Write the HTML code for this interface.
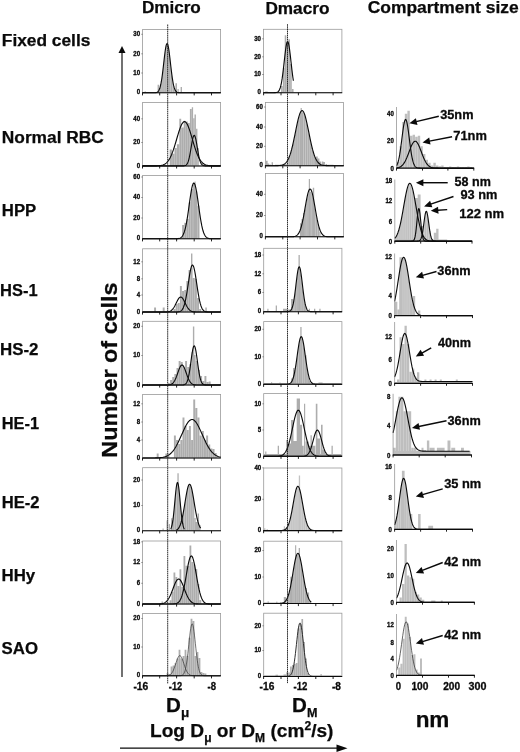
<!DOCTYPE html>
<html><head><meta charset="utf-8"><title>figure</title>
<style>html,body{margin:0;padding:0;background:#fff;}svg{display:block;font-family:'Liberation Sans', sans-serif;filter:grayscale(1);}
</style></head><body>
<svg width="520" height="752" viewBox="0 0 520 752">
<rect width="520" height="752" fill="#fff"/>
<g fill="#0a0a0a" font-weight="bold" stroke="#0a0a0a" stroke-width="0.25">
<text x="141.9" y="12.8" font-size="16" textLength="58.9" lengthAdjust="spacingAndGlyphs">Dmicro</text>
<text x="265.4" y="14.4" font-size="16" textLength="64" lengthAdjust="spacingAndGlyphs">Dmacro</text>
<text x="367.7" y="12.9" font-size="16" textLength="151" lengthAdjust="spacingAndGlyphs">Compartment size</text>
<text x="1.8" y="46.2" font-size="16.8" textLength="88.6" lengthAdjust="spacingAndGlyphs">Fixed cells</text>
<text x="1.8" y="142.7" font-size="16.8" textLength="102" lengthAdjust="spacingAndGlyphs">Normal RBC</text>
<text x="1.8" y="216" font-size="16.8" textLength="34.4" lengthAdjust="spacingAndGlyphs">HPP</text>
<text x="0" y="295.7" font-size="16.8" textLength="37.6" lengthAdjust="spacingAndGlyphs">HS-1</text>
<text x="0" y="355.2" font-size="16.8" textLength="38.5" lengthAdjust="spacingAndGlyphs">HS-2</text>
<text x="1.7" y="428.7" font-size="16.8" textLength="37.4" lengthAdjust="spacingAndGlyphs">HE-1</text>
<text x="1.7" y="508" font-size="16.8" textLength="37.8" lengthAdjust="spacingAndGlyphs">HE-2</text>
<text x="1.5" y="581.2" font-size="16.8" textLength="33.7" lengthAdjust="spacingAndGlyphs">HHy</text>
<text x="1.5" y="653.8" font-size="16.8" textLength="36.5" lengthAdjust="spacingAndGlyphs">SAO</text>
<text transform="translate(117.2,457.7) rotate(-90)" font-size="22" textLength="175.3" lengthAdjust="spacingAndGlyphs">Number of cells</text>
<text x="166" y="712.2" font-size="20.6">D<tspan font-size="13.6" dy="5">μ</tspan></text>
<text x="292" y="712.2" font-size="20.6">D<tspan font-size="12.6" dy="5">M</tspan></text>
<text x="150" y="736.5" font-size="19" textLength="183.5" lengthAdjust="spacingAndGlyphs">Log D<tspan font-size="12" dy="5">μ</tspan><tspan dy="-5"> or D</tspan><tspan font-size="12" dy="5">M</tspan><tspan dy="-5"> (cm</tspan><tspan font-size="12" dy="-7">2</tspan><tspan dy="7">/s)</tspan></text>
<text x="432.5" y="727" font-size="22.5" text-anchor="middle">nm</text>
</g>
<path d="M122 52V677" stroke="#0a0a0a" stroke-width="1.15" fill="none"/>
<path d="M122 46L118.5 53H125.5z" fill="#0a0a0a"/>
<path d="M120 748.2H338" stroke="#0a0a0a" stroke-width="1.3" fill="none"/>
<path d="M347.5 748.2L336.5 744.5V751.9z" fill="#0a0a0a"/>
<rect x="142.6" y="29.5" width="78" height="63.3" fill="#fff" stroke="#9a9a9a" stroke-width="0.8"/>
<path d="M156.54 92.51L157.01 92.35L157.48 92.11L157.95 91.76L158.43 91.27L158.9 90.6L159.37 89.7L159.84 88.51L160.31 86.98L160.78 85.07L161.25 82.74L161.73 79.98L162.2 76.78L162.67 73.19L163.14 69.29L163.61 65.18L164.08 61L164.55 56.93L165.03 53.16L165.5 49.87L165.97 47.26L166.44 45.46L166.91 44.58L167.38 44.68L167.85 45.75L168.33 47.72L168.8 50.48L169.27 53.88L169.74 57.73L170.21 61.83L170.68 66.01L171.15 70.09L171.63 73.94L172.1 77.45L172.57 80.56L173.04 83.24L173.51 85.48L173.98 87.31L174.45 88.77L174.93 89.9L175.4 90.75L175.87 91.38L176.34 91.84L176.81 92.16L177.28 92.39L177.66 92.51 L177.66 92.8 L156.54 92.8z" fill="#adadad"/>
<path d="M159.9 92.2V89.13M162 92.2V78.97M164.1 92.2V61.65M166.2 92.2V47.06M168.3 92.2V48.39M170.4 92.2V64.3M172.5 92.2V80.94M174.6 92.2V89.95" stroke="#e4e4e4" stroke-width="0.45" fill="none"/>
<path d="M157.6 92.8V84.7h1.6V92.8zM175.4 92.8V83.2h1.6V92.8zM177.5 92.8V89h1.2V92.8zM180.6 92.8V87h1.4V92.8zM144.5 92.8V91.6h1.5V92.8z" fill="#adadad"/>
<path d="M142.6 92.8L152.69 92.8L153.17 92.79L153.65 92.78L154.13 92.77L154.61 92.75L155.09 92.72L155.57 92.67L156.04 92.59L156.52 92.46L157 92.28L157.48 92L157.96 91.61L158.44 91.06L158.92 90.31L159.39 89.3L159.87 87.99L160.35 86.32L160.83 84.24L161.31 81.73L161.79 78.78L162.27 75.39L162.74 71.62L163.22 67.56L163.7 63.33L164.18 59.08L164.66 54.99L165.14 51.27L165.62 48.1L166.09 45.67L166.57 44.1L167.05 43.51L167.53 43.91L168.01 45.28L168.49 47.55L168.97 50.59L169.44 54.21L169.92 58.24L170.4 62.47L170.88 66.72L171.36 70.83L171.84 74.67L172.32 78.13L172.79 81.18L173.27 83.78L173.75 85.94L174.23 87.68L174.71 89.06L175.19 90.13L175.67 90.93L176.14 91.51L176.62 91.93L177.1 92.23L177.58 92.43L178.06 92.57L178.54 92.65L179.02 92.71L179.49 92.75L179.97 92.77L180.45 92.78L180.93 92.79L181.41 92.79L181.5 92.8L220.6 92.8" fill="none" stroke="#0a0a0a" stroke-width="1.12" stroke-linejoin="round"/>
<path d="M142.1 92.8H220.9" stroke="#0a0a0a" stroke-width="1.05" fill="none"/>
<path d="M142.5 92.8v2.6M159.7 92.8v2.6M176.6 92.8v2.6M194.2 92.8v2.6M211.5 92.8v2.6" stroke="#0a0a0a" stroke-width="0.9" fill="none"/>
<path d="M142.6 34.3h-1.3M142.6 53.8h-1.3M142.6 73h-1.3" stroke="#444" stroke-width="0.6" fill="none"/>
<g fill="#0a0a0a">
<text x="133.3" y="36.27" font-size="6.3" font-weight="bold" stroke="#0a0a0a" stroke-width="0.3" textLength="6.8" lengthAdjust="spacingAndGlyphs">30</text>
<text x="133.3" y="55.77" font-size="6.3" font-weight="bold" stroke="#0a0a0a" stroke-width="0.3" textLength="6.8" lengthAdjust="spacingAndGlyphs">20</text>
<text x="133.3" y="74.97" font-size="6.3" font-weight="bold" stroke="#0a0a0a" stroke-width="0.3" textLength="6.8" lengthAdjust="spacingAndGlyphs">10</text>
<text x="136.7" y="94.47" font-size="6.3" font-weight="bold" stroke="#0a0a0a" stroke-width="0.3" textLength="3.4" lengthAdjust="spacingAndGlyphs">0</text>
</g>
<rect x="142.6" y="102.5" width="78" height="63.4" fill="#fff" stroke="#9a9a9a" stroke-width="0.8"/>
<path d="M169.7 165.9V149.5h2.2V165.9zM172.1 165.9V153.8h2.2V165.9zM174.5 165.9V148h2.2V165.9zM176.9 165.9V144.2h2.2V165.9zM179.3 165.9V118.8h1.9V165.9zM181.4 165.9V127.4h2.1V165.9zM183.7 165.9V120.7h1.7V165.9zM185.6 165.9V121.6h2.2V165.9zM188 165.9V123h1.7V165.9zM189.9 165.9V109.1h1.7V165.9zM191.8 165.9V107.2h1.3V165.9zM193.3 165.9V118.3h1V165.9zM194.5 165.9V114.4h1.4V165.9zM196.1 165.9V128.8h1.3V165.9zM197.6 165.9V148h1.2V165.9z" fill="#adadad"/>
<path d="M142.6 165.9L150.96 165.9L151.76 165.89L152.56 165.89L153.36 165.88L154.16 165.88L154.96 165.87L155.76 165.85L156.56 165.83L157.36 165.8L158.16 165.75L158.96 165.69L159.76 165.61L160.56 165.5L161.36 165.36L162.16 165.17L162.96 164.92L163.76 164.61L164.56 164.21L165.36 163.72L166.16 163.11L166.96 162.37L167.76 161.47L168.56 160.41L169.36 159.17L170.16 157.73L170.96 156.08L171.76 154.23L172.56 152.17L173.36 149.92L174.16 147.5L174.96 144.93L175.76 142.25L176.56 139.51L177.36 136.76L178.16 134.06L178.96 131.48L179.76 129.07L180.56 126.91L181.36 125.05L182.16 123.55L182.96 122.46L183.76 121.8L184.56 121.6L185.36 121.87L186.16 122.59L186.96 123.75L187.76 125.31L188.56 127.21L189.36 129.42L190.16 131.85L190.96 134.46L191.76 137.17L192.56 139.93L193.36 142.66L194.16 145.32L194.96 147.87L195.76 150.27L196.56 152.49L197.36 154.52L198.16 156.34L198.96 157.95L199.76 159.36L200.56 160.58L201.36 161.62L202.16 162.49L202.96 163.21L203.76 163.8L204.56 164.28L205.36 164.66L206.16 164.96L206.96 165.2L207.76 165.38L208.56 165.52L209.36 165.62L210.16 165.7L210.96 165.76L211.76 165.8L212.56 165.83L213.36 165.85L214.16 165.87L214.96 165.88L215.76 165.89L216.56 165.89L217.36 165.89L218.04 165.9L220.6 165.9" fill="none" stroke="#0a0a0a" stroke-width="1.12" stroke-linejoin="round"/>
<path d="M142.6 165.9L181.08 165.9L181.52 165.89L181.96 165.89L182.39 165.88L182.83 165.87L183.26 165.85L183.7 165.82L184.13 165.77L184.57 165.69L185.01 165.57L185.44 165.4L185.88 165.16L186.31 164.82L186.75 164.35L187.18 163.73L187.62 162.91L188.06 161.88L188.49 160.59L188.93 159.03L189.36 157.2L189.8 155.09L190.23 152.76L190.67 150.23L191.11 147.61L191.54 144.97L191.98 142.43L192.41 140.12L192.85 138.16L193.28 136.65L193.72 135.68L194.16 135.3L194.59 135.55L195.03 136.41L195.46 137.82L195.9 139.7L196.33 141.95L196.77 144.45L197.21 147.08L197.64 149.71L198.08 152.26L198.51 154.64L198.95 156.8L199.38 158.69L199.82 160.3L200.26 161.64L200.69 162.72L201.13 163.58L201.56 164.24L202 164.74L202.43 165.1L202.87 165.36L203.31 165.55L203.74 165.67L204.18 165.75L204.61 165.81L205.05 165.85L205.48 165.87L205.92 165.88L206.36 165.89L206.79 165.89L207.23 165.9L207.31 165.9L220.6 165.9" fill="none" stroke="#0a0a0a" stroke-width="1.12" stroke-linejoin="round"/>
<path d="M142.1 165.9H220.9" stroke="#0a0a0a" stroke-width="1.05" fill="none"/>
<path d="M142.5 165.9v2.6M159.7 165.9v2.6M176.6 165.9v2.6M194.2 165.9v2.6M211.5 165.9v2.6" stroke="#0a0a0a" stroke-width="0.9" fill="none"/>
<path d="M142.6 118.8h-1.3M142.6 142.5h-1.3" stroke="#444" stroke-width="0.6" fill="none"/>
<g fill="#0a0a0a">
<text x="133.3" y="120.77" font-size="6.3" font-weight="bold" stroke="#0a0a0a" stroke-width="0.3" textLength="6.8" lengthAdjust="spacingAndGlyphs">40</text>
<text x="133.3" y="144.47" font-size="6.3" font-weight="bold" stroke="#0a0a0a" stroke-width="0.3" textLength="6.8" lengthAdjust="spacingAndGlyphs">20</text>
<text x="136.7" y="167.57" font-size="6.3" font-weight="bold" stroke="#0a0a0a" stroke-width="0.3" textLength="3.4" lengthAdjust="spacingAndGlyphs">0</text>
</g>
<rect x="142.6" y="175.5" width="78" height="63.3" fill="#fff" stroke="#9a9a9a" stroke-width="0.8"/>
<path d="M182.11 238.8V225h1.98V238.8zM184.31 238.8V222.8h1.98V238.8zM186.51 238.8V219h1.98V238.8zM188.71 238.8V202.28h1.98V238.8zM190.91 238.8V189.05h1.98V238.8zM193.11 238.8V184.58h1.98V238.8zM195.31 238.8V191.51h1.98V238.8zM197.51 238.8V205.79h1.98V238.8zM194.6 238.8V181.5h1V238.8z" fill="#adadad"/>
<path d="M142.6 238.8L173.81 238.79L174.48 238.79L175.14 238.78L175.81 238.77L176.47 238.75L177.14 238.71L177.81 238.65L178.47 238.56L179.14 238.42L179.8 238.21L180.47 237.9L181.13 237.45L181.8 236.83L182.47 235.98L183.13 234.84L183.8 233.35L184.46 231.46L185.13 229.11L185.79 226.27L186.46 222.93L187.13 219.1L187.79 214.83L188.46 210.23L189.12 205.44L189.79 200.63L190.45 196.01L191.12 191.8L191.79 188.21L192.45 185.46L193.12 183.68L193.78 183.01L194.45 183.46L195.11 185.02L195.78 187.59L196.45 191.02L197.11 195.13L197.78 199.68L198.44 204.47L199.11 209.28L199.77 213.93L200.44 218.27L201.11 222.2L201.77 225.65L202.44 228.59L203.1 231.03L203.77 233.01L204.43 234.57L205.1 235.77L205.77 236.68L206.43 237.34L207.1 237.82L207.76 238.15L208.43 238.38L209.09 238.54L209.76 238.64L210.43 238.7L211.09 238.74L211.76 238.77L212.42 238.78L213.09 238.79L213.75 238.79L213.89 238.79L220.6 238.8" fill="none" stroke="#0a0a0a" stroke-width="1.12" stroke-linejoin="round"/>
<path d="M142.1 238.8H220.9" stroke="#0a0a0a" stroke-width="1.05" fill="none"/>
<path d="M142.5 238.8v2.6M159.7 238.8v2.6M176.6 238.8v2.6M194.2 238.8v2.6M211.5 238.8v2.6" stroke="#0a0a0a" stroke-width="0.9" fill="none"/>
<path d="M142.6 177h-1.3M142.6 197.5h-1.3M142.6 218h-1.3" stroke="#444" stroke-width="0.6" fill="none"/>
<g fill="#0a0a0a">
<text x="133.3" y="178.97" font-size="6.3" font-weight="bold" stroke="#0a0a0a" stroke-width="0.3" textLength="6.8" lengthAdjust="spacingAndGlyphs">60</text>
<text x="133.3" y="199.47" font-size="6.3" font-weight="bold" stroke="#0a0a0a" stroke-width="0.3" textLength="6.8" lengthAdjust="spacingAndGlyphs">40</text>
<text x="133.3" y="219.97" font-size="6.3" font-weight="bold" stroke="#0a0a0a" stroke-width="0.3" textLength="6.8" lengthAdjust="spacingAndGlyphs">20</text>
<text x="136.7" y="240.47" font-size="6.3" font-weight="bold" stroke="#0a0a0a" stroke-width="0.3" textLength="3.4" lengthAdjust="spacingAndGlyphs">0</text>
</g>
<rect x="142.6" y="248.8" width="78" height="63.2" fill="#fff" stroke="#9a9a9a" stroke-width="0.8"/>
<path d="M154.11 312V307.5h1.93V312zM162.71 312V307.5h1.93V312zM173.46 312V309h1.93V312zM175.61 312V304h1.93V312zM177.76 312V303h1.93V312zM179.91 312V286h1.93V312zM182.06 312V291h1.93V312zM184.21 312V290h1.93V312zM186.36 312V281h1.93V312zM188.51 312V270h1.93V312zM190.66 312V268h1.93V312zM192.81 312V278h1.93V312zM194.96 312V279h1.93V312zM197.11 312V298h1.93V312zM199.26 312V309h1.93V312zM191 312V253.5h1.4V312zM205.3 312V307.5h1.5V312z" fill="#adadad"/>
<path d="M142.6 312L161.78 312L162.41 312L163.04 312L163.67 311.99L164.29 311.99L164.92 311.98L165.55 311.96L166.18 311.94L166.81 311.9L167.44 311.84L168.07 311.76L168.69 311.64L169.32 311.47L169.95 311.24L170.58 310.93L171.21 310.54L171.84 310.03L172.47 309.4L173.09 308.63L173.72 307.73L174.35 306.7L174.98 305.56L175.61 304.32L176.24 303.03L176.87 301.74L177.49 300.5L178.12 299.36L178.75 298.4L179.38 297.66L180.01 297.18L180.64 297L181.27 297.12L181.89 297.54L182.52 298.23L183.15 299.16L183.78 300.26L184.41 301.48L185.04 302.77L185.67 304.07L186.29 305.32L186.92 306.48L187.55 307.54L188.18 308.46L188.81 309.25L189.44 309.91L190.07 310.44L190.69 310.86L191.32 311.19L191.95 311.43L192.58 311.61L193.21 311.74L193.84 311.83L194.47 311.89L195.09 311.93L195.72 311.96L196.35 311.97L196.98 311.98L197.61 311.99L198.24 311.99L198.87 312L199.49 312L199.62 312L220.6 312" fill="none" stroke="#0a0a0a" stroke-width="1.12" stroke-linejoin="round"/>
<path d="M142.6 312L174.44 312L175.04 311.99L175.64 311.99L176.24 311.97L176.84 311.95L177.44 311.92L178.04 311.87L178.64 311.8L179.24 311.68L179.84 311.5L180.44 311.24L181.04 310.86L181.64 310.34L182.24 309.62L182.84 308.66L183.44 307.41L184.04 305.82L184.64 303.84L185.24 301.45L185.84 298.63L186.44 295.4L187.04 291.81L187.64 287.94L188.24 283.9L188.84 279.85L189.44 275.96L190.04 272.41L190.64 269.39L191.24 267.07L191.84 265.58L192.44 265L193.04 265.39L193.64 266.7L194.24 268.87L194.84 271.76L195.44 275.21L196.04 279.05L196.64 283.09L197.24 287.14L197.84 291.06L198.44 294.71L199.04 298.02L199.64 300.92L200.24 303.4L200.84 305.46L201.44 307.12L202.04 308.44L202.64 309.45L203.24 310.21L203.84 310.77L204.44 311.17L205.04 311.46L205.64 311.65L206.24 311.78L206.84 311.86L207.44 311.92L208.04 311.95L208.64 311.97L209.24 311.98L209.84 311.99L210.44 311.99L210.56 312L220.6 312" fill="none" stroke="#0a0a0a" stroke-width="1.12" stroke-linejoin="round"/>
<path d="M142.1 312H220.9" stroke="#0a0a0a" stroke-width="1.05" fill="none"/>
<path d="M142.5 312v2.6M159.7 312v2.6M176.6 312v2.6M194.2 312v2.6M211.5 312v2.6" stroke="#0a0a0a" stroke-width="0.9" fill="none"/>
<path d="M142.6 261.8h-1.3M142.6 278.8h-1.3M142.6 295h-1.3" stroke="#444" stroke-width="0.6" fill="none"/>
<g fill="#0a0a0a">
<text x="133.3" y="263.77" font-size="6.3" font-weight="bold" stroke="#0a0a0a" stroke-width="0.3" textLength="6.8" lengthAdjust="spacingAndGlyphs">12</text>
<text x="136.7" y="280.77" font-size="6.3" font-weight="bold" stroke="#0a0a0a" stroke-width="0.3" textLength="3.4" lengthAdjust="spacingAndGlyphs">8</text>
<text x="136.7" y="296.97" font-size="6.3" font-weight="bold" stroke="#0a0a0a" stroke-width="0.3" textLength="3.4" lengthAdjust="spacingAndGlyphs">4</text>
<text x="136.7" y="313.67" font-size="6.3" font-weight="bold" stroke="#0a0a0a" stroke-width="0.3" textLength="3.4" lengthAdjust="spacingAndGlyphs">0</text>
</g>
<rect x="142.6" y="321.3" width="78" height="63.7" fill="#fff" stroke="#9a9a9a" stroke-width="0.8"/>
<path d="M167.91 385V383h1.93V385zM170.06 385V380h1.93V385zM172.21 385V377h1.93V385zM174.36 385V374h1.93V385zM176.51 385V368h1.93V385zM178.66 385V361h1.93V385zM180.81 385V362h1.93V385zM182.96 385V367h1.93V385zM185.11 385V361h1.93V385zM187.26 385V367h1.93V385zM189.41 385V364h1.93V385zM191.56 385V352h1.93V385zM193.71 385V355h1.93V385zM195.86 385V361h1.93V385zM198.01 385V370h1.93V385zM200.16 385V376h1.93V385zM202.31 385V381h1.93V385zM204.46 385V376h1.93V385zM206.61 385V382h1.93V385zM208.76 385V381.5h1.93V385zM192.9 385V326.5h1.4V385z" fill="#adadad"/>
<path d="M142.6 385L163.94 385L164.54 385L165.14 384.99L165.74 384.99L166.34 384.98L166.94 384.97L167.54 384.95L168.14 384.91L168.74 384.86L169.34 384.79L169.94 384.68L170.54 384.52L171.14 384.29L171.74 383.99L172.34 383.58L172.94 383.05L173.54 382.37L174.14 381.53L174.74 380.51L175.34 379.31L175.94 377.94L176.54 376.41L177.14 374.76L177.74 373.04L178.34 371.32L178.94 369.66L179.54 368.15L180.14 366.87L180.74 365.88L181.34 365.25L181.94 365L182.54 365.16L183.14 365.72L183.74 366.64L184.34 367.88L184.94 369.35L185.54 370.98L186.14 372.7L186.74 374.42L187.34 376.09L187.94 377.64L188.54 379.05L189.14 380.29L189.74 381.34L190.34 382.22L190.94 382.92L191.54 383.48L192.14 383.92L192.74 384.24L193.34 384.48L193.94 384.65L194.54 384.77L195.14 384.85L195.74 384.91L196.34 384.94L196.94 384.96L197.54 384.98L198.14 384.99L198.74 384.99L199.34 385L199.94 385L200.06 385L220.6 385" fill="none" stroke="#0a0a0a" stroke-width="1.12" stroke-linejoin="round"/>
<path d="M142.6 385L180.44 385L180.9 384.99L181.35 384.99L181.81 384.98L182.27 384.96L182.73 384.94L183.18 384.9L183.64 384.83L184.1 384.73L184.55 384.58L185.01 384.36L185.47 384.05L185.93 383.61L186.38 383.02L186.84 382.22L187.3 381.17L187.75 379.84L188.21 378.2L188.67 376.2L189.13 373.85L189.58 371.16L190.04 368.16L190.5 364.93L190.95 361.56L191.41 358.18L191.87 354.94L192.33 351.98L192.78 349.46L193.24 347.52L193.7 346.28L194.15 345.8L194.61 346.12L195.07 347.22L195.53 349.02L195.98 351.44L196.44 354.32L196.9 357.52L197.35 360.88L197.81 364.26L198.27 367.53L198.73 370.58L199.18 373.34L199.64 375.76L200.1 377.82L200.55 379.54L201.01 380.93L201.47 382.03L201.93 382.87L202.38 383.51L202.84 383.98L203.3 384.31L203.75 384.55L204.21 384.71L204.67 384.81L205.13 384.88L205.58 384.93L206.04 384.96L206.5 384.98L206.95 384.99L207.41 384.99L207.87 385L207.96 385L220.6 385" fill="none" stroke="#0a0a0a" stroke-width="1.12" stroke-linejoin="round"/>
<path d="M142.1 385H220.9" stroke="#0a0a0a" stroke-width="1.05" fill="none"/>
<path d="M142.5 385v2.6M159.7 385v2.6M176.6 385v2.6M194.2 385v2.6M211.5 385v2.6" stroke="#0a0a0a" stroke-width="0.9" fill="none"/>
<path d="M142.6 326.3h-1.3M142.6 355.5h-1.3" stroke="#444" stroke-width="0.6" fill="none"/>
<g fill="#0a0a0a">
<text x="133.3" y="328.27" font-size="6.3" font-weight="bold" stroke="#0a0a0a" stroke-width="0.3" textLength="6.8" lengthAdjust="spacingAndGlyphs">20</text>
<text x="133.3" y="357.47" font-size="6.3" font-weight="bold" stroke="#0a0a0a" stroke-width="0.3" textLength="6.8" lengthAdjust="spacingAndGlyphs">10</text>
<text x="136.7" y="386.67" font-size="6.3" font-weight="bold" stroke="#0a0a0a" stroke-width="0.3" textLength="3.4" lengthAdjust="spacingAndGlyphs">0</text>
</g>
<rect x="142.6" y="394.5" width="78" height="63.5" fill="#fff" stroke="#9a9a9a" stroke-width="0.8"/>
<path d="M156.71 458V453.5h1.93V458zM165.31 458V453.5h1.93V458zM167.46 458V453.5h1.93V458zM173.91 458V435.5h1.93V458zM176.06 458V440h1.93V458zM178.21 458V444h1.93V458zM180.36 458V440h1.93V458zM182.51 458V417.5h1.93V458zM184.66 458V426h1.93V458zM186.81 458V430h1.93V458zM188.96 458V426h1.93V458zM191.11 458V440h1.93V458zM193.26 458V399.5h1.93V458zM195.41 458V408h1.93V458zM197.56 458V417.5h1.93V458zM199.71 458V435.5h1.93V458zM201.86 458V431h1.93V458zM204.01 458V440h1.93V458zM206.16 458V435.5h1.93V458zM208.31 458V444.5h1.93V458zM210.46 458V448.5h1.93V458zM212.61 458V449h1.93V458zM214.76 458V453h1.93V458z" fill="#adadad"/>
<path d="M142.6 458L147.71 458L148.51 457.99L149.31 457.99L150.11 457.99L150.91 457.99L151.71 457.98L152.51 457.98L153.31 457.97L154.11 457.96L154.91 457.94L155.71 457.92L156.51 457.9L157.31 457.87L158.11 457.83L158.91 457.78L159.71 457.72L160.51 457.64L161.31 457.55L162.11 457.43L162.91 457.29L163.71 457.11L164.51 456.91L165.31 456.66L166.11 456.37L166.91 456.02L167.71 455.61L168.51 455.14L169.31 454.6L170.11 453.98L170.91 453.27L171.71 452.47L172.51 451.57L173.31 450.58L174.11 449.48L174.91 448.28L175.71 446.98L176.51 445.57L177.31 444.08L178.11 442.49L178.91 440.83L179.71 439.11L180.51 437.33L181.31 435.53L182.11 433.72L182.91 431.92L183.71 430.15L184.51 428.44L185.31 426.82L186.11 425.31L186.91 423.93L187.71 422.7L188.51 421.65L189.31 420.79L190.11 420.14L190.91 419.71L191.71 419.52L192.51 419.55L193.31 419.81L194.11 420.3L194.91 421.01L195.71 421.92L196.51 423.02L197.31 424.29L198.11 425.71L198.91 427.26L199.71 428.91L200.51 430.63L201.31 432.41L202.11 434.22L202.91 436.03L203.71 437.83L204.51 439.59L205.31 441.29L206.11 442.94L206.91 444.5L207.71 445.97L208.51 447.35L209.31 448.62L210.11 449.79L210.91 450.86L211.71 451.83L212.51 452.7L213.31 453.47L214.11 454.16L214.91 454.76L215.71 455.28L216.51 455.73L217.31 456.12L218.11 456.45L218.91 456.73L219.71 456.97L220.51 457.16L220.6 457.18" fill="none" stroke="#0a0a0a" stroke-width="1.12" stroke-linejoin="round"/>
<path d="M142.1 458H220.9" stroke="#0a0a0a" stroke-width="1.05" fill="none"/>
<path d="M142.5 458v2.6M159.7 458v2.6M176.6 458v2.6M194.2 458v2.6M211.5 458v2.6" stroke="#0a0a0a" stroke-width="0.9" fill="none"/>
<path d="M142.6 403.8h-1.3M142.6 422h-1.3M142.6 440h-1.3" stroke="#444" stroke-width="0.6" fill="none"/>
<g fill="#0a0a0a">
<text x="133.3" y="405.77" font-size="6.3" font-weight="bold" stroke="#0a0a0a" stroke-width="0.3" textLength="6.8" lengthAdjust="spacingAndGlyphs">12</text>
<text x="136.7" y="423.97" font-size="6.3" font-weight="bold" stroke="#0a0a0a" stroke-width="0.3" textLength="3.4" lengthAdjust="spacingAndGlyphs">8</text>
<text x="136.7" y="441.97" font-size="6.3" font-weight="bold" stroke="#0a0a0a" stroke-width="0.3" textLength="3.4" lengthAdjust="spacingAndGlyphs">4</text>
<text x="136.7" y="459.67" font-size="6.3" font-weight="bold" stroke="#0a0a0a" stroke-width="0.3" textLength="3.4" lengthAdjust="spacingAndGlyphs">0</text>
</g>
<rect x="142.6" y="467.7" width="78" height="63.1" fill="#fff" stroke="#9a9a9a" stroke-width="0.8"/>
<path d="M171 528.46L171.4 527.46L171.8 526.12L172.2 524.4L172.6 522.24L173 519.61L173.4 516.51L173.8 512.95L174.2 509.02L174.6 504.81L175 500.49L175.4 496.25L175.8 492.3L176.2 488.86L176.6 486.15L177 484.33L177.4 483.53L177.8 483.8L178.2 485.12L178.6 487.4L179 490.5L179.4 494.22L179.8 498.34L180.2 502.65L180.6 506.94L181 511.03L181.4 514.78L181.8 518.12L182.2 520.99L182.6 523.38L183 525.31L183.4 526.83L183.8 528L184 528.46 L184 530.8 L171 530.8z" fill="#adadad"/>
<path d="M172.26 530.2V524.9M174.36 530.2V508.16M176.46 530.2V487.81M178.56 530.2V487.94M180.66 530.2V508.37M182.76 530.2V525" stroke="#e4e4e4" stroke-width="0.45" fill="none"/>
<path d="M179 527.59L179.66 526.39L180.31 524.86L180.97 522.95L181.63 520.64L182.29 517.92L182.94 514.8L183.6 511.32L184.26 507.57L184.91 503.66L185.57 499.72L186.23 495.94L186.89 492.49L187.54 489.54L188.2 487.26L188.86 485.79L189.51 485.21L190.17 485.55L190.83 486.8L191.49 488.87L192.14 491.66L192.8 495L193.46 498.72L194.11 502.63L194.3 503.74 L194.3 530.8 L179 530.8z" fill="#adadad"/>
<path d="M180.26 530.2V525.8M182.36 530.2V518.39M184.46 530.2V507.17M186.56 530.2V494.95M188.66 530.2V486.94M190.76 530.2V487.43M192.86 530.2V496.13" stroke="#e4e4e4" stroke-width="0.45" fill="none"/>
<path d="M162.5 530.8V528.6h1.2V530.8zM166.5 530.8V520.5h1.2V530.8zM168.8 530.8V524h1.2V530.8zM171.1 530.8V518.2h1.3V530.8zM177.4 530.8V473.2h1.3V530.8zM194.3 530.8V518h1.4V530.8zM195.7 530.8V522h1.9V530.8zM197.6 530.8V513.6h1.4V530.8zM199 530.8V525h1.6V530.8z" fill="#adadad"/>
<path d="M170.6 529.17L171 528.41L171.4 527.39L171.8 526.02L172.2 524.26L172.6 522.06L173 519.38L173.4 516.21L173.8 512.58L174.2 508.56L174.6 504.26L175 499.85L175.4 495.52L175.8 491.48L176.2 487.98L176.6 485.21L177 483.35L177.4 482.53L177.8 482.81L178.2 484.16L178.6 486.49L179 489.65L179.4 493.45L179.8 497.66L180.2 502.06L180.6 506.43L181 510.61L181.4 514.45L181.8 517.85L182.2 520.78L182.6 523.22L183 525.2L183.4 526.75L183.8 527.94L184.2 528.82L184.4 529.17" fill="none" stroke="#0a0a0a" stroke-width="1.12" stroke-linejoin="round"/>
<path d="M176.3 530.09L176.96 529.73L177.61 529.24L178.27 528.55L178.93 527.64L179.59 526.44L180.24 524.91L180.9 523.01L181.56 520.69L182.21 517.96L182.87 514.81L183.53 511.3L184.19 507.49L184.84 503.5L185.5 499.48L186.16 495.58L186.81 492.01L187.47 488.93L188.13 486.52L188.79 484.92L189.44 484.23L190.1 484.47L190.76 485.65L191.41 487.69L192.07 490.46L192.73 493.82L193.39 497.59L194.04 501.57L194.7 505.6L195.36 509.51L196.01 513.17L196.67 516.5L197.33 519.44L197.99 521.95L198.64 524.05L199.3 525.76L199.96 527.11L200.6 528.13" fill="none" stroke="#0a0a0a" stroke-width="1.12" stroke-linejoin="round"/>
<path d="M142.1 530.8H220.9" stroke="#0a0a0a" stroke-width="1.05" fill="none"/>
<path d="M142.5 530.8v2.6M159.7 530.8v2.6M176.6 530.8v2.6M194.2 530.8v2.6M211.5 530.8v2.6" stroke="#0a0a0a" stroke-width="0.9" fill="none"/>
<path d="M142.6 480h-1.3M142.6 505.5h-1.3" stroke="#444" stroke-width="0.6" fill="none"/>
<g fill="#0a0a0a">
<text x="133.3" y="481.97" font-size="6.3" font-weight="bold" stroke="#0a0a0a" stroke-width="0.3" textLength="6.8" lengthAdjust="spacingAndGlyphs">20</text>
<text x="133.3" y="507.47" font-size="6.3" font-weight="bold" stroke="#0a0a0a" stroke-width="0.3" textLength="6.8" lengthAdjust="spacingAndGlyphs">10</text>
<text x="136.7" y="532.47" font-size="6.3" font-weight="bold" stroke="#0a0a0a" stroke-width="0.3" textLength="3.4" lengthAdjust="spacingAndGlyphs">0</text>
</g>
<rect x="142.6" y="541" width="78" height="63" fill="#fff" stroke="#9a9a9a" stroke-width="0.8"/>
<path d="M169.51 604V600.3h1.78V604zM171.51 604V592h1.78V604zM173.51 604V572.6h1.78V604zM175.51 604V577h1.78V604zM177.51 604V586h1.78V604zM179.51 604V569.2h1.78V604zM181.51 604V587h1.78V604zM183.51 604V556h1.78V604zM185.51 604V565.7h1.78V604zM187.51 604V566h1.78V604zM189.51 604V545.5h1.78V604zM191.51 604V562h1.78V604zM193.51 604V564.5h1.78V604zM195.51 604V569h1.78V604zM197.51 604V584h1.78V604zM199.51 604V600h1.78V604zM161.5 604V601.5h1.5V604zM203.5 604V602h1.5V604z" fill="#adadad"/>
<path d="M142.6 604L154.14 604L154.94 604L155.74 603.99L156.54 603.99L157.34 603.98L158.14 603.96L158.94 603.94L159.74 603.9L160.54 603.84L161.34 603.75L162.14 603.62L162.94 603.44L163.74 603.18L164.54 602.83L165.34 602.36L166.14 601.75L166.94 600.97L167.74 600L168.54 598.81L169.34 597.41L170.14 595.8L170.94 593.99L171.74 592.01L172.54 589.93L173.34 587.8L174.14 585.72L174.94 583.77L175.74 582.05L176.54 580.66L177.34 579.65L178.14 579.1L178.94 579.03L179.74 579.45L180.54 580.34L181.34 581.63L182.14 583.27L182.94 585.17L183.74 587.22L184.54 589.34L185.34 591.45L186.14 593.46L186.94 595.32L187.74 596.99L188.54 598.45L189.34 599.69L190.14 600.72L190.94 601.55L191.74 602.21L192.54 602.72L193.34 603.1L194.14 603.38L194.94 603.58L195.74 603.72L196.54 603.82L197.34 603.88L198.14 603.93L198.94 603.96L199.74 603.97L200.54 603.98L201.34 603.99L202.14 603.99L202.94 604L203.16 604L220.6 604" fill="none" stroke="#0a0a0a" stroke-width="1.12" stroke-linejoin="round"/>
<path d="M142.6 604L169.85 604L170.56 603.99L171.28 603.98L171.99 603.97L172.71 603.95L173.42 603.92L174.14 603.87L174.85 603.79L175.56 603.67L176.28 603.49L176.99 603.22L177.71 602.84L178.42 602.3L179.14 601.57L179.85 600.58L180.56 599.3L181.28 597.67L181.99 595.65L182.71 593.2L183.42 590.32L184.14 587.01L184.85 583.34L185.56 579.37L186.28 575.24L186.99 571.1L187.71 567.11L188.42 563.48L189.14 560.39L189.85 558.02L190.56 556.49L191.28 555.9L191.99 556.3L192.71 557.64L193.42 559.86L194.14 562.81L194.85 566.35L195.56 570.28L196.28 574.41L196.99 578.56L197.71 582.57L198.42 586.31L199.14 589.69L199.85 592.66L200.56 595.2L201.28 597.3L201.99 599.01L202.71 600.35L203.42 601.39L204.14 602.17L204.85 602.74L205.56 603.15L206.28 603.44L206.99 603.64L207.71 603.77L208.42 603.86L209.14 603.91L209.85 603.95L210.56 603.97L211.28 603.98L211.99 603.99L212.71 603.99L212.85 604L220.6 604" fill="none" stroke="#0a0a0a" stroke-width="1.12" stroke-linejoin="round"/>
<path d="M142.1 604H220.9" stroke="#0a0a0a" stroke-width="1.05" fill="none"/>
<path d="M142.5 604v2.6M159.7 604v2.6M176.6 604v2.6M194.2 604v2.6M211.5 604v2.6" stroke="#0a0a0a" stroke-width="0.9" fill="none"/>
<path d="M142.6 541.8h-1.3M142.6 562.5h-1.3M142.6 583.3h-1.3" stroke="#444" stroke-width="0.6" fill="none"/>
<g fill="#0a0a0a">
<text x="133.3" y="543.77" font-size="6.3" font-weight="bold" stroke="#0a0a0a" stroke-width="0.3" textLength="6.8" lengthAdjust="spacingAndGlyphs">18</text>
<text x="133.3" y="564.47" font-size="6.3" font-weight="bold" stroke="#0a0a0a" stroke-width="0.3" textLength="6.8" lengthAdjust="spacingAndGlyphs">12</text>
<text x="136.7" y="585.27" font-size="6.3" font-weight="bold" stroke="#0a0a0a" stroke-width="0.3" textLength="3.4" lengthAdjust="spacingAndGlyphs">6</text>
<text x="136.7" y="605.67" font-size="6.3" font-weight="bold" stroke="#0a0a0a" stroke-width="0.3" textLength="3.4" lengthAdjust="spacingAndGlyphs">0</text>
</g>
<rect x="142.6" y="613.5" width="78" height="62.3" fill="#fff" stroke="#9a9a9a" stroke-width="0.8"/>
<path d="M166.61 675.8V672.9h1.78V675.8zM168.61 675.8V674h1.78V675.8zM170.61 675.8V666.5h1.78V675.8zM172.61 675.8V665.5h1.78V675.8zM174.61 675.8V663h1.78V675.8zM176.61 675.8V658.5h1.78V675.8zM178.61 675.8V649.8h1.78V675.8zM180.61 675.8V658.5h1.78V675.8zM182.61 675.8V656h1.78V675.8zM184.61 675.8V649.8h1.78V675.8zM186.61 675.8V656h1.78V675.8zM188.61 675.8V637.7h1.78V675.8zM190.61 675.8V618.7h1.78V675.8zM192.61 675.8V621h1.78V675.8zM194.61 675.8V656h1.78V675.8zM196.61 675.8V652h1.78V675.8zM198.61 675.8V658h1.78V675.8zM200.61 675.8V672h1.78V675.8zM202.61 675.8V673h1.78V675.8zM204.61 675.8V673.5h1.78V675.8z" fill="#adadad"/>
<path d="M142.6 675.8L162.6 675.8L163.17 675.8L163.74 675.79L164.31 675.79L164.89 675.78L165.46 675.77L166.03 675.75L166.6 675.71L167.17 675.66L167.74 675.59L168.31 675.47L168.89 675.31L169.46 675.09L170.03 674.78L170.6 674.37L171.17 673.83L171.74 673.14L172.31 672.29L172.89 671.27L173.46 670.05L174.03 668.67L174.6 667.12L175.17 665.46L175.74 663.72L176.31 661.98L176.89 660.31L177.46 658.78L178.03 657.49L178.6 656.49L179.17 655.85L179.74 655.6L180.31 655.77L180.89 656.33L181.46 657.26L182.03 658.5L182.6 659.99L183.17 661.64L183.74 663.37L184.31 665.11L184.89 666.8L185.46 668.37L186.03 669.79L186.6 671.04L187.17 672.1L187.74 672.99L188.31 673.7L188.89 674.27L189.46 674.7L190.03 675.03L190.6 675.27L191.17 675.44L191.74 675.57L192.31 675.65L192.89 675.7L193.46 675.74L194.03 675.76L194.6 675.78L195.17 675.79L195.74 675.79L196.31 675.8L196.89 675.8L197 675.8L220.6 675.8" fill="none" stroke="#333" stroke-width="0.7" stroke-linejoin="round"/>
<path d="M142.6 675.8L177.96 675.79L178.43 675.79L178.9 675.78L179.37 675.77L179.85 675.75L180.32 675.72L180.79 675.66L181.26 675.58L181.73 675.44L182.2 675.25L182.67 674.96L183.15 674.54L183.62 673.96L184.09 673.17L184.56 672.11L185.03 670.72L185.5 668.96L185.97 666.77L186.45 664.13L186.92 661.01L187.39 657.44L187.86 653.46L188.33 649.18L188.8 644.71L189.27 640.23L189.75 635.92L190.22 632L190.69 628.66L191.16 626.09L191.63 624.44L192.1 623.81L192.57 624.23L193.05 625.68L193.52 628.08L193.99 631.28L194.46 635.1L194.93 639.35L195.4 643.81L195.87 648.29L196.35 652.63L196.82 656.67L197.29 660.33L197.76 663.54L198.23 666.28L198.7 668.56L199.17 670.4L199.65 671.86L200.12 672.98L200.59 673.82L201.06 674.44L201.53 674.89L202 675.2L202.47 675.41L202.95 675.55L203.42 675.65L203.89 675.71L204.36 675.74L204.83 675.77L205.3 675.78L205.77 675.79L206.25 675.79L206.34 675.79L220.6 675.8" fill="none" stroke="#333" stroke-width="0.7" stroke-linejoin="round"/>
<path d="M142.1 675.8H220.9" stroke="#0a0a0a" stroke-width="1.05" fill="none"/>
<path d="M142.5 675.8v2.6M159.7 675.8v2.6M176.6 675.8v2.6M194.2 675.8v2.6M211.5 675.8v2.6" stroke="#0a0a0a" stroke-width="0.9" fill="none"/>
<path d="M142.6 618.5h-1.3M142.6 647h-1.3" stroke="#444" stroke-width="0.6" fill="none"/>
<g fill="#0a0a0a">
<text x="133.3" y="620.47" font-size="6.3" font-weight="bold" stroke="#0a0a0a" stroke-width="0.3" textLength="6.8" lengthAdjust="spacingAndGlyphs">20</text>
<text x="133.3" y="648.97" font-size="6.3" font-weight="bold" stroke="#0a0a0a" stroke-width="0.3" textLength="6.8" lengthAdjust="spacingAndGlyphs">10</text>
<text x="136.7" y="677.47" font-size="6.3" font-weight="bold" stroke="#0a0a0a" stroke-width="0.3" textLength="3.4" lengthAdjust="spacingAndGlyphs">0</text>
</g>
<rect x="263.5" y="29.3" width="78.4" height="63.4" fill="#fff" stroke="#9a9a9a" stroke-width="0.8"/>
<path d="M281.11 92.7V86h1.59V92.7zM282.92 92.7V68h1.59V92.7zM284.73 92.7V35.2h1.59V92.7zM286.54 92.7V41.5h1.59V92.7zM288.35 92.7V39.3h1.59V92.7zM290.16 92.7V64h1.59V92.7zM291.97 92.7V89h1.59V92.7zM265.2 92.7V91.6h2.5V92.7z" fill="#adadad"/>
<path d="M264 92.7L272.98 92.7L273.47 92.69L273.95 92.68L274.44 92.67L274.92 92.65L275.41 92.62L275.89 92.56L276.38 92.48L276.87 92.35L277.35 92.16L277.84 91.87L278.32 91.46L278.81 90.89L279.29 90.11L279.78 89.07L280.27 87.71L280.75 85.98L281.24 83.83L281.72 81.23L282.21 78.17L282.69 74.66L283.18 70.75L283.67 66.54L284.15 62.15L284.64 57.74L285.12 53.51L285.61 49.65L286.09 46.37L286.58 43.85L287.07 42.23L287.55 41.61L288.04 42.02L288.52 43.45L289.01 45.8L289.49 48.95L289.98 52.7L290.47 56.88L290.95 61.26L291.44 65.67L291.92 69.93L292.41 73.9L292.89 77.5L293.38 80.65L293.4 80.77" fill="none" stroke="#0a0a0a" stroke-width="1.12" stroke-linejoin="round"/>
<path d="M263 92.7H342.2" stroke="#0a0a0a" stroke-width="1.05" fill="none"/>
<path d="M263.6 92.7v2.6M281 92.7v2.6M298.4 92.7v2.6M315.8 92.7v2.6M333.1 92.7v2.6" stroke="#0a0a0a" stroke-width="0.9" fill="none"/>
<path d="M263.5 38.8h-1.3M263.5 56.8h-1.3M263.5 74.5h-1.3" stroke="#444" stroke-width="0.6" fill="none"/>
<g fill="#0a0a0a">
<text x="254.2" y="40.77" font-size="6.3" font-weight="bold" stroke="#0a0a0a" stroke-width="0.3" textLength="6.8" lengthAdjust="spacingAndGlyphs">30</text>
<text x="254.2" y="58.77" font-size="6.3" font-weight="bold" stroke="#0a0a0a" stroke-width="0.3" textLength="6.8" lengthAdjust="spacingAndGlyphs">20</text>
<text x="254.2" y="76.47" font-size="6.3" font-weight="bold" stroke="#0a0a0a" stroke-width="0.3" textLength="6.8" lengthAdjust="spacingAndGlyphs">10</text>
<text x="257.6" y="94.37" font-size="6.3" font-weight="bold" stroke="#0a0a0a" stroke-width="0.3" textLength="3.4" lengthAdjust="spacingAndGlyphs">0</text>
</g>
<rect x="265.4" y="102.5" width="78.2" height="63.2" fill="#fff" stroke="#9a9a9a" stroke-width="0.8"/>
<path d="M287.5 161.05L288.3 159.67L289.1 157.98L289.9 155.97L290.7 153.62L291.5 150.91L292.3 147.87L293.1 144.51L293.9 140.88L294.7 137.06L295.5 133.13L296.3 129.2L297.1 125.4L297.9 121.84L298.7 118.67L299.5 116.01L300.3 113.96L301.1 112.61L301.9 112.02L302.7 112.22L303.5 113.19L304.3 114.9L305.1 117.27L305.9 120.2L306.7 123.58L307.5 127.28L308.3 131.16L309.1 135.1L309.9 138.99L310.7 142.72L311.5 146.22L312.3 149.43L313.1 152.31L313.9 154.84L314.7 157.02L315.5 158.86L316 159.85 L316 165.7 L287.5 165.7z" fill="#adadad"/>
<path d="M288.76 165.1V159.54M290.86 165.1V153.91M292.96 165.1V145.92M295.06 165.1V136.1M297.16 165.1V125.92M299.26 165.1V117.55M301.36 165.1V113.14M303.46 165.1V113.93M305.56 165.1V119.69M307.66 165.1V128.84M309.76 165.1V139.12M311.86 165.1V148.51M313.96 165.1V155.81" stroke="#e4e4e4" stroke-width="0.45" fill="none"/>
<path d="M266 165.7V160.8h1.6V165.7zM267.6 165.7V163.5h1.6V165.7zM269.6 165.7V164.5h1.2V165.7zM271.6 165.7V162.2h1.4V165.7zM275 165.7V164.8h8V165.7zM283 165.7V164.2h4.5V165.7zM300.6 165.7V108h1.2V165.7zM316 165.7V156.5h1.7V165.7zM317.7 165.7V158.5h1.7V165.7zM319.4 165.7V161.5h1.7V165.7zM321.8 165.7V161.5h1.6V165.7zM323.4 165.7V162h1.6V165.7zM325.5 165.7V164h1.6V165.7zM327.5 165.7V164.8h6V165.7z" fill="#adadad"/>
<path d="M265.4 165.7L273.29 165.69L274.09 165.69L274.89 165.69L275.69 165.68L276.49 165.66L277.29 165.64L278.09 165.61L278.89 165.56L279.69 165.49L280.49 165.4L281.29 165.26L282.09 165.06L282.89 164.8L283.69 164.44L284.49 163.96L285.29 163.33L286.09 162.53L286.89 161.51L287.69 160.25L288.49 158.7L289.29 156.84L290.09 154.65L290.89 152.11L291.69 149.22L292.49 146L293.29 142.49L294.09 138.74L294.89 134.82L295.69 130.83L296.49 126.89L297.29 123.12L298.09 119.64L298.89 116.57L299.69 114.05L300.49 112.17L301.29 111L302.09 110.6L302.89 110.98L303.69 112.13L304.49 114L305.29 116.5L306.09 119.55L306.89 123.03L307.69 126.8L308.49 130.73L309.29 134.72L310.09 138.64L310.89 142.4L311.69 145.92L312.49 149.14L313.29 152.04L314.09 154.59L314.89 156.79L315.69 158.66L316.49 160.21L317.29 161.48L318.09 162.51L318.89 163.31L319.69 163.94L320.49 164.43L321.29 164.79L322.09 165.06L322.89 165.25L323.69 165.39L324.49 165.49L325.29 165.56L326.09 165.61L326.89 165.64L327.69 165.66L328.49 165.68L329.29 165.69L330.09 165.69L330.89 165.69L330.91 165.69L343.6 165.7" fill="none" stroke="#0a0a0a" stroke-width="1.12" stroke-linejoin="round"/>
<path d="M264.9 165.7H343.9" stroke="#0a0a0a" stroke-width="1.05" fill="none"/>
<path d="M265.4 165.7v2.6M282.8 165.7v2.6M300.1 165.7v2.6M317.5 165.7v2.6M334.8 165.7v2.6" stroke="#0a0a0a" stroke-width="0.9" fill="none"/>
<path d="M265.4 107h-1.3M265.4 127h-1.3M265.4 146.3h-1.3" stroke="#444" stroke-width="0.6" fill="none"/>
<g fill="#0a0a0a">
<text x="256.1" y="108.97" font-size="6.3" font-weight="bold" stroke="#0a0a0a" stroke-width="0.3" textLength="6.8" lengthAdjust="spacingAndGlyphs">60</text>
<text x="256.1" y="128.97" font-size="6.3" font-weight="bold" stroke="#0a0a0a" stroke-width="0.3" textLength="6.8" lengthAdjust="spacingAndGlyphs">40</text>
<text x="256.1" y="148.27" font-size="6.3" font-weight="bold" stroke="#0a0a0a" stroke-width="0.3" textLength="6.8" lengthAdjust="spacingAndGlyphs">20</text>
<text x="259.5" y="167.37" font-size="6.3" font-weight="bold" stroke="#0a0a0a" stroke-width="0.3" textLength="3.4" lengthAdjust="spacingAndGlyphs">0</text>
</g>
<rect x="265.4" y="173.5" width="78.2" height="63.3" fill="#fff" stroke="#9a9a9a" stroke-width="0.8"/>
<path d="M301.5 227.09L302.2 224.45L302.9 221.41L303.6 218.01L304.3 214.32L305 210.45L305.7 206.53L306.4 202.74L307.1 199.24L307.8 196.23L308.5 193.85L309.2 192.26L309.9 191.54L310.6 191.74L311.3 192.84L312 194.78L312.7 197.45L313.4 200.69L314.1 204.34L314.8 208.2L315.5 212.12L316.2 215.93L316.9 219.51L317.6 222.76L318.3 225.63L319 228.1L319.5 229.61 L319.5 236.8 L301.5 236.8z" fill="#adadad"/>
<path d="M302.76 236.2V222.85M304.86 236.2V212.03M306.96 236.2V200.71M309.06 236.2V193.31M311.16 236.2V193.35M313.26 236.2V200.81M315.36 236.2V212.14M317.46 236.2V222.94" stroke="#e4e4e4" stroke-width="0.45" fill="none"/>
<path d="M300 236.8V223.3h1.5V236.8zM301.5 236.8V219h1.5V236.8zM303 236.8V213h1.6V236.8zM308.8 236.8V178.9h1.2V236.8zM312.8 236.8V187.8h1.4V236.8zM319.5 236.8V232h1V236.8zM276 236.8V236h3V236.8z" fill="#adadad"/>
<path d="M265.4 236.8L288.6 236.8L289.31 236.79L290.03 236.78L290.74 236.77L291.46 236.75L292.17 236.72L292.89 236.67L293.6 236.59L294.31 236.47L295.03 236.29L295.74 236.03L296.46 235.64L297.17 235.11L297.89 234.38L298.6 233.41L299.31 232.13L300.03 230.51L300.74 228.5L301.46 226.07L302.17 223.2L302.89 219.92L303.6 216.27L304.31 212.33L305.03 208.22L305.74 204.1L306.46 200.14L307.17 196.53L307.89 193.46L308.6 191.1L309.31 189.59L310.03 189L310.74 189.39L311.46 190.73L312.17 192.93L312.89 195.87L313.6 199.39L314.31 203.29L315.03 207.39L315.74 211.52L316.46 215.5L317.17 219.22L317.89 222.58L318.6 225.53L319.31 228.05L320.03 230.14L320.74 231.84L321.46 233.18L322.17 234.21L322.89 234.98L323.6 235.55L324.31 235.96L325.03 236.25L325.74 236.44L326.46 236.57L327.17 236.66L327.89 236.71L328.6 236.75L329.31 236.77L330.03 236.78L330.74 236.79L331.46 236.79L331.6 236.8L343.6 236.8" fill="none" stroke="#0a0a0a" stroke-width="1.12" stroke-linejoin="round"/>
<path d="M264.9 236.8H343.9" stroke="#0a0a0a" stroke-width="1.05" fill="none"/>
<path d="M265.4 236.8v2.6M282.8 236.8v2.6M300.1 236.8v2.6M317.5 236.8v2.6M334.8 236.8v2.6" stroke="#0a0a0a" stroke-width="0.9" fill="none"/>
<path d="M265.4 194.3h-1.3M265.4 215.5h-1.3" stroke="#444" stroke-width="0.6" fill="none"/>
<g fill="#0a0a0a">
<text x="256.1" y="196.27" font-size="6.3" font-weight="bold" stroke="#0a0a0a" stroke-width="0.3" textLength="6.8" lengthAdjust="spacingAndGlyphs">40</text>
<text x="256.1" y="217.47" font-size="6.3" font-weight="bold" stroke="#0a0a0a" stroke-width="0.3" textLength="6.8" lengthAdjust="spacingAndGlyphs">20</text>
<text x="259.5" y="238.47" font-size="6.3" font-weight="bold" stroke="#0a0a0a" stroke-width="0.3" textLength="3.4" lengthAdjust="spacingAndGlyphs">0</text>
</g>
<rect x="263.7" y="248.3" width="78.2" height="63.4" fill="#fff" stroke="#9a9a9a" stroke-width="0.8"/>
<path d="M293.5 303.73L293.94 301.44L294.39 298.76L294.83 295.72L295.27 292.35L295.71 288.74L296.16 285.01L296.6 281.31L297.04 277.79L297.49 274.63L297.93 271.98L298.37 270.02L298.81 268.83L299.26 268.51L299.7 269.06L300.14 270.45L300.59 272.61L301.03 275.4L301.47 278.67L301.91 282.26L302.36 285.98L302.8 289.69L303.24 293.24L303.69 296.54L304.13 299.49L304.57 302.07L305.01 304.26L305.2 305.06 L305.2 311.7 L293.5 311.7z" fill="#adadad"/>
<path d="M294.76 311.1V297.01M296.86 311.1V280.01M298.96 311.1V269.43M301.06 311.1V276.42M303.16 311.1V293.4" stroke="#e4e4e4" stroke-width="0.45" fill="none"/>
<path d="M267.3 311.7V308.8h1.2V311.7zM275.7 311.7V305.6h1.3V311.7zM283 311.7V308.8h4V311.7zM287.9 311.7V309.5h3V311.7zM291 311.7V299.1h2.5V311.7zM298.5 311.7V255h1.3V311.7zM305.2 311.7V307.5h1.5V311.7zM308.8 311.7V308.8h1.2V311.7zM314 311.7V308.8h1.3V311.7zM319.3 311.7V308.8h1.3V311.7z" fill="#adadad"/>
<path d="M263.7 311.7L285.44 311.7L285.9 311.69L286.35 311.69L286.81 311.68L287.27 311.66L287.73 311.63L288.18 311.58L288.64 311.51L289.1 311.39L289.55 311.22L290.01 310.97L290.47 310.61L290.93 310.11L291.38 309.43L291.84 308.51L292.3 307.32L292.75 305.8L293.21 303.91L293.67 301.62L294.13 298.93L294.58 295.84L295.04 292.41L295.5 288.71L295.95 284.86L296.41 280.99L296.87 277.27L297.33 273.88L297.78 270.99L298.24 268.78L298.7 267.35L299.15 266.8L299.61 267.17L300.07 268.42L300.53 270.49L300.98 273.25L301.44 276.56L301.9 280.22L302.35 284.08L302.81 287.95L303.27 291.69L303.73 295.18L304.18 298.34L304.64 301.12L305.1 303.48L305.55 305.45L306.01 307.04L306.47 308.3L306.93 309.26L307.38 309.99L307.84 310.53L308.3 310.91L308.75 311.18L309.21 311.36L309.67 311.49L310.13 311.57L310.58 311.62L311.04 311.65L311.5 311.67L311.95 311.68L312.41 311.69L312.87 311.7L312.96 311.7L341.9 311.7" fill="none" stroke="#0a0a0a" stroke-width="1.12" stroke-linejoin="round"/>
<path d="M263.2 311.7H342.2" stroke="#0a0a0a" stroke-width="1.05" fill="none"/>
<path d="M263.6 311.7v2.6M281 311.7v2.6M298.4 311.7v2.6M315.8 311.7v2.6M333.1 311.7v2.6" stroke="#0a0a0a" stroke-width="0.9" fill="none"/>
<path d="M263.7 255h-1.3M263.7 273.8h-1.3M263.7 292.5h-1.3" stroke="#444" stroke-width="0.6" fill="none"/>
<g fill="#0a0a0a">
<text x="254.4" y="256.97" font-size="6.3" font-weight="bold" stroke="#0a0a0a" stroke-width="0.3" textLength="6.8" lengthAdjust="spacingAndGlyphs">18</text>
<text x="254.4" y="275.77" font-size="6.3" font-weight="bold" stroke="#0a0a0a" stroke-width="0.3" textLength="6.8" lengthAdjust="spacingAndGlyphs">12</text>
<text x="257.8" y="294.47" font-size="6.3" font-weight="bold" stroke="#0a0a0a" stroke-width="0.3" textLength="3.4" lengthAdjust="spacingAndGlyphs">6</text>
<text x="257.8" y="313.37" font-size="6.3" font-weight="bold" stroke="#0a0a0a" stroke-width="0.3" textLength="3.4" lengthAdjust="spacingAndGlyphs">0</text>
</g>
<rect x="263.7" y="321.6" width="78.2" height="62.7" fill="#fff" stroke="#9a9a9a" stroke-width="0.8"/>
<path d="M293 379.41L293.56 377.75L294.11 375.71L294.67 373.26L295.23 370.39L295.79 367.14L296.34 363.55L296.9 359.71L297.46 355.76L298.01 351.84L298.57 348.12L299.13 344.8L299.69 342.04L300.24 340L300.8 338.8L301.36 338.52L301.91 339.16L302.47 340.69L303.03 343.02L303.59 346.02L304.14 349.52L304.7 353.33L305.26 357.28L305.81 361.21L306.37 364.96L306.93 368.43L307.49 371.54L308.04 374.25L308.6 376.54L309 377.94 L309 384.3 L293 384.3z" fill="#adadad"/>
<path d="M294.26 383.7V375.91M296.36 383.7V364.23M298.46 383.7V349.64M300.56 383.7V340.01M302.66 383.7V342.2M304.76 383.7V354.55M306.86 383.7V368.82" stroke="#e4e4e4" stroke-width="0.45" fill="none"/>
<path d="M264 384.3V383.3h77.5V384.3zM291 384.3V378.6h2V384.3zM293 384.3V368h1.6V384.3zM300.3 384.3V326.9h1.3V384.3zM305.3 384.3V355.2h1.2V384.3zM271 384.3V382.3h1.2V384.3zM279.5 384.3V382.5h1V384.3zM318.5 384.3V382.5h4.1V384.3zM309 384.3V381h1.5V384.3z" fill="#adadad"/>
<path d="M263.7 384.3L284.05 384.3L284.62 384.29L285.19 384.28L285.76 384.27L286.34 384.25L286.91 384.22L287.48 384.17L288.05 384.09L288.62 383.97L289.19 383.79L289.76 383.53L290.34 383.15L290.91 382.61L291.48 381.89L292.05 380.91L292.62 379.64L293.19 378.03L293.76 376.02L294.34 373.59L294.91 370.73L295.48 367.46L296.05 363.81L296.62 359.88L297.19 355.78L297.76 351.67L298.34 347.72L298.91 344.12L299.48 341.06L300.05 338.7L300.62 337.19L301.19 336.6L301.76 336.99L302.34 338.33L302.91 340.52L303.48 343.46L304.05 346.96L304.62 350.86L305.19 354.96L305.76 359.07L306.34 363.04L306.91 366.75L307.48 370.11L308.05 373.05L308.62 375.57L309.19 377.66L309.76 379.35L310.34 380.68L310.91 381.71L311.48 382.49L312.05 383.05L312.62 383.46L313.19 383.75L313.76 383.94L314.34 384.07L314.91 384.16L315.48 384.21L316.05 384.25L316.62 384.27L317.19 384.28L317.76 384.29L318.34 384.29L318.45 384.3L341.9 384.3" fill="none" stroke="#0a0a0a" stroke-width="1.12" stroke-linejoin="round"/>
<path d="M263.2 384.3H342.2" stroke="#0a0a0a" stroke-width="1.05" fill="none"/>
<path d="M263.6 384.3v2.6M281 384.3v2.6M298.4 384.3v2.6M315.8 384.3v2.6M333.1 384.3v2.6" stroke="#0a0a0a" stroke-width="0.9" fill="none"/>
<path d="M263.7 329.3h-1.3M263.7 356.8h-1.3" stroke="#444" stroke-width="0.6" fill="none"/>
<g fill="#0a0a0a">
<text x="254.4" y="331.27" font-size="6.3" font-weight="bold" stroke="#0a0a0a" stroke-width="0.3" textLength="6.8" lengthAdjust="spacingAndGlyphs">20</text>
<text x="254.4" y="358.77" font-size="6.3" font-weight="bold" stroke="#0a0a0a" stroke-width="0.3" textLength="6.8" lengthAdjust="spacingAndGlyphs">10</text>
<text x="257.8" y="385.97" font-size="6.3" font-weight="bold" stroke="#0a0a0a" stroke-width="0.3" textLength="3.4" lengthAdjust="spacingAndGlyphs">0</text>
</g>
<rect x="263.7" y="393.6" width="78.2" height="62.7" fill="#fff" stroke="#9a9a9a" stroke-width="0.8"/>
<path d="M264 456.3V453.9h77.5V456.3zM265.2 456.3V451.4h1.2V456.3zM277.7 456.3V445.7h1.3V456.3zM286.2 456.3V440h1.6V456.3zM287.8 456.3V443.5h3.2V456.3zM291 456.3V419.9h2.5V456.3zM293.5 456.3V440.9h3.2V456.3zM296.7 456.3V398.4h3.3V456.3zM300 456.3V424.7h2.1V456.3zM302.1 456.3V445.7h1.6V456.3zM304 456.3V403.7h1.2V456.3zM305.6 456.3V441.5h3.2V456.3zM308.8 456.3V445.7h1.7V456.3zM310.5 456.3V435.2h1.3V456.3zM311.8 456.3V445.7h3.5V456.3zM315.8 456.3V403.7h1.6V456.3zM317.4 456.3V438.5h3V456.3zM321 456.3V424.7h1.6V456.3zM322.6 456.3V449.8h2.4V456.3zM331.5 456.3V445.7h1.3V456.3z" fill="#adadad"/>
<path d="M263.7 456.3L272.98 456.3L273.78 456.29L274.58 456.29L275.38 456.28L276.18 456.26L276.98 456.23L277.78 456.19L278.58 456.13L279.38 456.04L280.18 455.9L280.98 455.7L281.78 455.41L282.58 455L283.38 454.46L284.18 453.72L284.98 452.76L285.78 451.54L286.58 450L287.38 448.12L288.18 445.86L288.98 443.24L289.78 440.25L290.58 436.93L291.38 433.36L292.18 429.62L292.98 425.83L293.78 422.15L294.58 418.71L295.38 415.69L296.18 413.21L296.98 411.43L297.78 410.41L298.58 410.24L299.38 410.9L300.18 412.37L300.98 414.56L301.78 417.37L302.58 420.65L303.38 424.25L304.18 428.01L304.98 431.78L305.78 435.44L306.58 438.87L307.38 442.01L308.18 444.79L308.98 447.2L309.78 449.24L310.58 450.92L311.38 452.28L312.18 453.35L312.98 454.17L313.78 454.79L314.58 455.25L315.38 455.58L316.18 455.82L316.98 455.98L317.78 456.1L318.58 456.17L319.38 456.22L320.18 456.25L320.98 456.27L321.78 456.28L322.58 456.29L323.38 456.29L323.72 456.3L341.9 456.3" fill="none" stroke="#0a0a0a" stroke-width="1.12" stroke-linejoin="round"/>
<path d="M263.7 456.3L299.34 456.3L299.94 456.3L300.54 456.29L301.14 456.29L301.74 456.27L302.34 456.26L302.94 456.23L303.54 456.19L304.14 456.12L304.74 456.02L305.34 455.88L305.94 455.67L306.54 455.37L307.14 454.97L307.74 454.44L308.34 453.74L308.94 452.85L309.54 451.75L310.14 450.42L310.74 448.85L311.34 447.05L311.94 445.05L312.54 442.89L313.14 440.64L313.74 438.38L314.34 436.21L314.94 434.23L315.54 432.55L316.14 431.25L316.74 430.42L317.34 430.1L317.94 430.32L318.54 431.05L319.14 432.25L319.74 433.87L320.34 435.79L320.94 437.93L321.54 440.18L322.14 442.44L322.74 444.62L323.34 446.66L323.94 448.51L324.54 450.12L325.14 451.5L325.74 452.65L326.34 453.58L326.94 454.31L327.54 454.88L328.14 455.3L328.74 455.62L329.34 455.84L329.94 456L330.54 456.1L331.14 456.18L331.74 456.22L332.34 456.25L332.94 456.27L333.54 456.28L334.14 456.29L334.74 456.29L335.34 456.3L335.46 456.3L341.9 456.3" fill="none" stroke="#0a0a0a" stroke-width="1.12" stroke-linejoin="round"/>
<path d="M263.2 456.3H342.2" stroke="#0a0a0a" stroke-width="1.05" fill="none"/>
<path d="M263.6 456.3v2.6M281 456.3v2.6M298.4 456.3v2.6M315.8 456.3v2.6M333.1 456.3v2.6" stroke="#0a0a0a" stroke-width="0.9" fill="none"/>
<path d="M263.7 403.8h-1.3M263.7 430h-1.3" stroke="#444" stroke-width="0.6" fill="none"/>
<g fill="#0a0a0a">
<text x="254.4" y="405.77" font-size="6.3" font-weight="bold" stroke="#0a0a0a" stroke-width="0.3" textLength="6.8" lengthAdjust="spacingAndGlyphs">10</text>
<text x="257.8" y="431.97" font-size="6.3" font-weight="bold" stroke="#0a0a0a" stroke-width="0.3" textLength="3.4" lengthAdjust="spacingAndGlyphs">5</text>
<text x="257.8" y="457.97" font-size="6.3" font-weight="bold" stroke="#0a0a0a" stroke-width="0.3" textLength="3.4" lengthAdjust="spacingAndGlyphs">0</text>
</g>
<rect x="263.7" y="468" width="78.2" height="62.6" fill="#fff" stroke="#9a9a9a" stroke-width="0.8"/>
<path d="M283.18 530.35L283.84 530.2L284.49 529.99L285.15 529.68L285.81 529.25L286.47 528.66L287.12 527.86L287.78 526.81L288.44 525.47L289.09 523.78L289.75 521.73L290.41 519.29L291.07 516.47L291.72 513.31L292.38 509.86L293.04 506.24L293.69 502.55L294.35 498.96L295.01 495.64L295.67 492.74L296.32 490.43L296.98 488.84L297.64 488.07L298.29 488.16L298.95 489.1L299.61 490.84L300.27 493.28L300.92 496.27L301.58 499.67L302.24 503.29L302.89 506.97L303.55 510.57L304.21 513.97L304.87 517.06L305.52 519.81L306.18 522.17L306.84 524.15L307.49 525.76L308.15 527.04L308.81 528.04L309.47 528.79L310.12 529.35L310.78 529.75L311.44 530.04L312.09 530.24L312.62 530.35 L312.62 530.6 L283.18 530.6z" fill="#c2c2c2"/>
<path d="M288.64 530V525.78M290.74 530V518.71M292.84 530V508.14M294.94 530V496.77M297.04 530V489.54M299.14 530V490.32M301.24 530V498.67M303.34 530V510.23M305.44 530V520.28M307.54 530V526.66" stroke="#e4e4e4" stroke-width="0.45" fill="none"/>
<path d="M298.8 530.6V475.6h1.3V530.6zM283.8 530.6V526.2h1.2V530.6zM264 530.6V528.2h1.4V530.6zM266.5 530.6V529.2h1.5V530.6z" fill="#c2c2c2"/>
<path d="M263.7 530.6L277.69 530.6L278.36 530.59L279.03 530.59L279.7 530.58L280.38 530.56L281.05 530.53L281.72 530.48L282.39 530.41L283.06 530.3L283.73 530.13L284.4 529.88L285.08 529.53L285.75 529.03L286.42 528.36L287.09 527.45L287.76 526.28L288.43 524.77L289.1 522.91L289.78 520.66L290.45 518L291.12 514.96L291.79 511.57L292.46 507.92L293.13 504.11L293.8 500.3L294.48 496.63L295.15 493.28L295.82 490.44L296.49 488.25L297.16 486.84L297.83 486.3L298.5 486.66L299.18 487.9L299.85 489.94L300.52 492.67L301.19 495.93L301.86 499.54L302.53 503.35L303.2 507.17L303.88 510.86L304.55 514.3L305.22 517.42L305.89 520.16L306.56 522.49L307.23 524.43L307.9 526L308.58 527.24L309.25 528.2L309.92 528.92L310.59 529.44L311.26 529.82L311.93 530.09L312.6 530.27L313.28 530.39L313.95 530.47L314.62 530.52L315.29 530.55L315.96 530.57L316.63 530.58L317.3 530.59L317.98 530.6L318.11 530.6L341.9 530.6" fill="none" stroke="#0a0a0a" stroke-width="1.12" stroke-linejoin="round"/>
<path d="M263.2 530.6H342.2" stroke="#0a0a0a" stroke-width="1.05" fill="none"/>
<path d="M263.6 530.6v2.6M281 530.6v2.6M298.4 530.6v2.6M315.8 530.6v2.6M333.1 530.6v2.6" stroke="#0a0a0a" stroke-width="0.9" fill="none"/>
<path d="M263.7 467.8h-1.3M263.7 499.3h-1.3" stroke="#444" stroke-width="0.6" fill="none"/>
<g fill="#0a0a0a">
<text x="254.4" y="469.77" font-size="6.3" font-weight="bold" stroke="#0a0a0a" stroke-width="0.3" textLength="6.8" lengthAdjust="spacingAndGlyphs">40</text>
<text x="254.4" y="501.27" font-size="6.3" font-weight="bold" stroke="#0a0a0a" stroke-width="0.3" textLength="6.8" lengthAdjust="spacingAndGlyphs">20</text>
<text x="257.8" y="532.27" font-size="6.3" font-weight="bold" stroke="#0a0a0a" stroke-width="0.3" textLength="3.4" lengthAdjust="spacingAndGlyphs">0</text>
</g>
<rect x="263.7" y="541.2" width="78.2" height="62.3" fill="#fff" stroke="#9a9a9a" stroke-width="0.8"/>
<path d="M286.5 600.26L287.2 599.03L287.9 597.46L288.6 595.49L289.3 593.1L290 590.28L290.7 587.02L291.4 583.38L292.1 579.43L292.8 575.28L293.5 571.09L294.2 567.03L294.9 563.29L295.6 560.06L296.3 557.52L297 555.81L297.7 555.04L298.4 555.25L299.1 556.43L299.8 558.51L300.5 561.37L301.2 564.84L301.9 568.74L302.6 572.88L303.3 577.07L304 581.15L304.7 584.98L305.4 588.47L306.1 591.54L306.8 594.18L307.5 596.38L308.2 598.18L308.9 599.6L309.5 600.56 L309.5 603.5 L286.5 603.5z" fill="#adadad"/>
<path d="M287.76 602.9V598.6M289.86 602.9V591.68M291.96 602.9V581.04M294.06 602.9V568.62M296.16 602.9V558.76M298.26 602.9V555.93M300.36 602.9V561.54M302.46 602.9V572.85M304.56 602.9V585.04M306.66 602.9V594.49M308.76 602.9V600.14" stroke="#e4e4e4" stroke-width="0.45" fill="none"/>
<path d="M264 603.5V602.4h20V603.5zM283.8 603.5V597h2.4V603.5zM290.3 603.5V576.8h1.6V603.5zM295.1 603.5V545.3h1.1V603.5zM298.7 603.5V548h1.3V603.5zM305.6 603.5V588h1.4V603.5zM307.5 603.5V592.5h1.6V603.5zM309.5 603.5V601h1.6V603.5zM267.5 603.5V601.5h1.5V603.5zM276 603.5V601.8h1.5V603.5z" fill="#adadad"/>
<path d="M263.7 603.5L276.4 603.5L277.11 603.49L277.83 603.48L278.54 603.47L279.26 603.45L279.97 603.42L280.69 603.37L281.4 603.28L282.11 603.16L282.83 602.97L283.54 602.69L284.26 602.29L284.97 601.73L285.69 600.96L286.4 599.94L287.11 598.6L287.83 596.9L288.54 594.79L289.26 592.23L289.97 589.22L290.69 585.77L291.4 581.94L292.11 577.8L292.83 573.49L293.54 569.16L294.26 565L294.97 561.21L295.69 557.99L296.4 555.51L297.11 553.92L297.83 553.31L298.54 553.71L299.26 555.12L299.97 557.43L300.69 560.52L301.4 564.21L302.11 568.31L302.83 572.62L303.54 576.95L304.26 581.13L304.97 585.03L305.69 588.57L306.4 591.67L307.11 594.31L307.83 596.51L308.54 598.29L309.26 599.69L309.97 600.78L310.69 601.59L311.3 602.12" fill="none" stroke="#0a0a0a" stroke-width="1.12" stroke-linejoin="round"/>
<path d="M263.2 603.5H342.2" stroke="#0a0a0a" stroke-width="1.05" fill="none"/>
<path d="M263.6 603.5v2.6M281 603.5v2.6M298.4 603.5v2.6M315.8 603.5v2.6M333.1 603.5v2.6" stroke="#0a0a0a" stroke-width="0.9" fill="none"/>
<path d="M263.7 550.5h-1.3M263.7 577h-1.3" stroke="#444" stroke-width="0.6" fill="none"/>
<g fill="#0a0a0a">
<text x="254.4" y="552.47" font-size="6.3" font-weight="bold" stroke="#0a0a0a" stroke-width="0.3" textLength="6.8" lengthAdjust="spacingAndGlyphs">20</text>
<text x="254.4" y="578.97" font-size="6.3" font-weight="bold" stroke="#0a0a0a" stroke-width="0.3" textLength="6.8" lengthAdjust="spacingAndGlyphs">10</text>
<text x="257.8" y="605.17" font-size="6.3" font-weight="bold" stroke="#0a0a0a" stroke-width="0.3" textLength="3.4" lengthAdjust="spacingAndGlyphs">0</text>
</g>
<rect x="263.7" y="613.2" width="78.2" height="63.2" fill="#fff" stroke="#9a9a9a" stroke-width="0.8"/>
<path d="M286.31 676.4V672.2h1.67V676.4zM288.2 676.4V672.5h1.67V676.4zM290.09 676.4V666.5h1.67V676.4zM291.98 676.4V665h1.67V676.4zM293.87 676.4V664h1.67V676.4zM295.76 676.4V663h1.67V676.4zM297.65 676.4V628.6h1.67V676.4zM299.54 676.4V624h1.67V676.4zM301.43 676.4V619h1.67V676.4zM303.32 676.4V642h1.67V676.4zM305.21 676.4V658.5h1.67V676.4zM307.1 676.4V673h1.67V676.4zM264 676.4V675.6h77.5V676.4zM275.5 676.4V674.8h2.5V676.4zM283.5 676.4V674.5h2.5V676.4zM320.5 676.4V674h1.2V676.4z" fill="#adadad"/>
<path d="M263.7 676.4L284.95 676.39L285.45 676.39L285.95 676.38L286.45 676.37L286.95 676.35L287.45 676.31L287.95 676.26L288.45 676.17L288.95 676.03L289.45 675.83L289.95 675.53L290.45 675.11L290.95 674.51L291.45 673.69L291.95 672.6L292.45 671.18L292.95 669.36L293.45 667.11L293.95 664.39L294.45 661.18L294.95 657.51L295.45 653.42L295.95 649.01L296.45 644.41L296.95 639.8L297.45 635.37L297.95 631.33L298.45 627.9L298.95 625.25L299.45 623.56L299.95 622.91L300.45 623.34L300.95 624.83L301.45 627.3L301.95 630.59L302.45 634.53L302.95 638.89L303.45 643.49L303.95 648.1L304.45 652.56L304.95 656.72L305.45 660.48L305.95 663.79L306.45 666.61L306.95 668.95L307.45 670.85L307.95 672.34L308.45 673.5L308.95 674.37L309.45 675L309.95 675.46L310.45 675.78L310.95 676L311.45 676.15L311.95 676.24L312.45 676.3L312.95 676.34L313.45 676.37L313.95 676.38L314.45 676.39L314.95 676.39L315.05 676.39L341.9 676.4" fill="none" stroke="#222" stroke-width="0.95" stroke-linejoin="round"/>
<path d="M263.2 676.4H342.2" stroke="#0a0a0a" stroke-width="1.05" fill="none"/>
<path d="M263.6 676.4v2.6M281 676.4v2.6M298.4 676.4v2.6M315.8 676.4v2.6M333.1 676.4v2.6" stroke="#0a0a0a" stroke-width="0.9" fill="none"/>
<path d="M263.7 625.8h-1.3M263.7 650.5h-1.3" stroke="#444" stroke-width="0.6" fill="none"/>
<g fill="#0a0a0a">
<text x="254.4" y="627.77" font-size="6.3" font-weight="bold" stroke="#0a0a0a" stroke-width="0.3" textLength="6.8" lengthAdjust="spacingAndGlyphs">20</text>
<text x="254.4" y="652.47" font-size="6.3" font-weight="bold" stroke="#0a0a0a" stroke-width="0.3" textLength="6.8" lengthAdjust="spacingAndGlyphs">10</text>
<text x="257.8" y="678.07" font-size="6.3" font-weight="bold" stroke="#0a0a0a" stroke-width="0.3" textLength="3.4" lengthAdjust="spacingAndGlyphs">0</text>
</g>
<path d="M167.7 24.5V683.5" stroke="#222" stroke-width="0.95" stroke-dasharray="1.6 0.5" fill="none"/>
<path d="M287.5 24.2V683.5" stroke="#222" stroke-width="0.95" stroke-dasharray="1.6 0.5" fill="none"/>
<g fill="#0a0a0a" stroke="#0a0a0a" stroke-width="0.3" font-weight="bold" font-size="10.1">
<text x="133.4" y="689.5" textLength="14.9" lengthAdjust="spacingAndGlyphs">-16</text>
<text x="168.8" y="689.5" textLength="13.4" lengthAdjust="spacingAndGlyphs">-12</text>
<text x="207.6" y="689.5" textLength="8.5" lengthAdjust="spacingAndGlyphs">-8</text>
<text x="259.6" y="689.5" textLength="14.7" lengthAdjust="spacingAndGlyphs">-16</text>
<text x="293.5" y="689.5" textLength="13.9" lengthAdjust="spacingAndGlyphs">-12</text>
<text x="331.9" y="689.5" textLength="9" lengthAdjust="spacingAndGlyphs">-8</text>
</g>
<path d="M397.01 168.2V161.7h2.38V168.2zM399.61 168.2V146.3h2.38V168.2zM402.21 168.2V122h2.38V168.2zM404.81 168.2V113.7h2.38V168.2zM407.41 168.2V110.8h2.38V168.2zM410.01 168.2V135.8h2.38V168.2zM412.61 168.2V134.8h2.38V168.2zM415.21 168.2V136.7h2.38V168.2zM417.81 168.2V135.8h2.38V168.2zM420.41 168.2V146.3h2.38V168.2zM423.01 168.2V154h2.38V168.2zM425.61 168.2V159.8h2.38V168.2zM428.21 168.2V162.7h2.38V168.2zM430.81 168.2V165.6h2.38V168.2zM433.41 168.2V162.7h2.38V168.2zM436.01 168.2V165.6h2.38V168.2zM438.61 168.2V166.2h2.38V168.2zM441.21 168.2V165.6h2.38V168.2zM443.81 168.2V167h2.38V168.2zM446.41 168.2V167h2.38V168.2zM449.01 168.2V166.5h2.38V168.2zM451.61 168.2V167h2.38V168.2zM454.21 168.2V167h2.38V168.2zM456.81 168.2V166.5h2.38V168.2zM459.41 168.2V167h2.38V168.2zM462.01 168.2V167h2.38V168.2zM464.61 168.2V167h2.38V168.2zM467.21 168.2V166.5h2.38V168.2zM469.81 168.2V167h2.38V168.2z" fill="#bebebe"/>
<path d="M396.5 165.83L397.03 164.87L397.56 163.6L398.09 161.99L398.61 159.99L399.14 157.56L399.67 154.68L400.2 151.38L400.73 147.69L401.26 143.69L401.79 139.52L402.31 135.3L402.84 131.23L403.37 127.5L403.9 124.29L404.43 121.79L404.96 120.13L405.49 119.42L406.01 119.7L406.54 120.96L407.07 123.11L407.6 126.03L408.13 129.56L408.66 133.51L409.19 137.69L409.71 141.9L410.24 145.99L410.77 149.83L411.3 153.3L411.83 156.37L412.36 158.99L412.89 161.18L413.41 162.95L413.94 164.36L414.47 165.45L415 166.26L415.53 166.87L416.06 167.3L416.59 167.61L417.11 167.81L417.64 167.96L418.17 168.05L418.7 168.11L419.23 168.14L419.76 168.17L420.29 168.18L420.81 168.19L421.34 168.19L421.51 168.2L473.8 168.2" fill="none" stroke="#0a0a0a" stroke-width="1.12" stroke-linejoin="round"/>
<path d="M396.5 167.95L397.3 167.84L398.1 167.67L398.9 167.44L399.7 167.13L400.5 166.72L401.3 166.19L402.1 165.51L402.9 164.66L403.7 163.63L404.5 162.4L405.3 160.97L406.1 159.33L406.9 157.5L407.7 155.52L408.5 153.43L409.3 151.29L410.1 149.16L410.9 147.14L411.7 145.3L412.5 143.72L413.3 142.48L414.1 141.64L414.9 141.23L415.7 141.29L416.5 141.81L417.3 142.75L418.1 144.09L418.9 145.74L419.7 147.63L420.5 149.69L421.3 151.82L422.1 153.96L422.9 156.03L423.7 157.97L424.5 159.75L425.3 161.34L426.1 162.73L426.9 163.91L427.7 164.89L428.5 165.69L429.3 166.33L430.1 166.83L430.9 167.22L431.7 167.5L432.5 167.72L433.3 167.87L434.1 167.98L434.9 168.05L435.7 168.1L436.5 168.14L437.3 168.16L438.1 168.18L438.9 168.19L439.7 168.19L440.5 168.2L441.3 168.2L441.43 168.2L473.8 168.2" fill="none" stroke="#0a0a0a" stroke-width="1.12" stroke-linejoin="round"/>
<path d="M396.5 107V168.2" stroke="#888" stroke-width="0.7" fill="none"/>
<path d="M396.1 168.2H474.2" stroke="#0a0a0a" stroke-width="1.3" fill="none"/>
<path d="M396.5 168.2v2.4M422.5 168.2v2.4M447.9 168.2v2.4M473.8 168.2v2.4" stroke="#0a0a0a" stroke-width="0.9" fill="none"/>
<g fill="#0a0a0a">
<text x="387.1" y="116.47" font-size="6.3" font-weight="bold" stroke="#0a0a0a" stroke-width="0.3" textLength="6.8" lengthAdjust="spacingAndGlyphs">40</text>
<text x="387.1" y="143.47" font-size="6.3" font-weight="bold" stroke="#0a0a0a" stroke-width="0.3" textLength="6.8" lengthAdjust="spacingAndGlyphs">20</text>
<text x="390.5" y="170.97" font-size="6.3" font-weight="bold" stroke="#0a0a0a" stroke-width="0.3" textLength="3.4" lengthAdjust="spacingAndGlyphs">0</text>
</g>
<path d="M395.5 237.98L396.3 236.81L397.1 235.32L397.9 233.47L398.7 231.2L399.5 228.51L400.3 225.37L401.1 221.79L401.9 217.84L402.7 213.57L403.5 209.1L404.3 204.56L405.1 200.12L405.9 195.95L406.7 192.24L407.5 189.15L408.3 186.84L409.1 185.44L409.9 185L410.7 185.56L411.5 187.09L412.3 189.5L413.1 192.67L413.9 196.45L414.7 200.66L415.5 205.13L416.3 209.66L417.1 214.12L417.9 218.35L418 218.86 L418 241.2 L395.5 241.2z" fill="#bebebe"/>
<path d="M396.76 240.6V236.8M398.86 240.6V231.5M400.96 240.6V223.25M403.06 240.6V212.38M405.16 240.6V200.59M407.26 240.6V190.8M409.36 240.6V185.99M411.46 240.6V187.79M413.56 240.6V195.58M415.66 240.6V206.83" stroke="#e4e4e4" stroke-width="0.45" fill="none"/>
<path d="M418.94 241.03L419.34 240.91L419.74 240.72L420.14 240.42L420.54 239.97L420.94 239.33L421.34 238.44L421.74 237.25L422.14 235.71L422.54 233.79L422.94 231.5L423.34 228.88L423.74 226.02L424.14 223.06L424.54 220.16L424.94 217.52L425.34 215.35L425.74 213.82L426.14 213.07L426.54 213.15L426.94 214.07L427.34 215.74L427.74 218.02L428.14 220.72L428.54 223.65L428.94 226.61L429.34 229.43L429.74 231.98L430.14 234.2L430.54 236.04L430.94 237.51L431.34 238.64L431.74 239.48L432.14 240.08L432.54 240.49L432.94 240.76L433.34 240.94L433.66 241.03 L433.66 241.2 L418.94 241.2z" fill="#bebebe"/>
<path d="M422.3 240.6V235.78M424.4 240.6V221.95M426.5 240.6V213.91M428.6 240.6V224.9M430.7 240.6V237.48" stroke="#e4e4e4" stroke-width="0.45" fill="none"/>
<path d="M414.8 241.2V198.1h2.9V241.2zM417.7 241.2V194.6h2.9V241.2zM420.6 241.2V226h2.6V241.2zM433.8 241.2V232.7h2.4V241.2zM436.2 241.2V228.7h2.3V241.2zM395.2 241.2V239.6h52V241.2z" fill="#bebebe"/>
<path d="M394.8 238.44L395.6 237.42L396.4 236.11L397.2 234.46L398 232.43L398.8 229.98L399.6 227.09L400.4 223.76L401.2 220.01L402 215.9L402.8 211.51L403.6 206.95L404.4 202.35L405.2 197.9L406 193.76L406.8 190.1L407.6 187.11L408.4 184.91L409.2 183.63L410 183.32L410.8 184L411.6 185.63L412.4 188.14L413.2 191.4L414 195.26L414.8 199.54L415.6 204.07L416.4 208.67L417.2 213.18L418 217.48L418.8 221.47L419.6 225.06L420.4 228.22L421.2 230.95L422 233.23L422.8 235.12L423.6 236.64L424.4 237.83L425.2 238.76L426 239.46L426.8 239.98L427.6 240.36L428.4 240.63L429.2 240.82L430 240.95L430.8 241.04L431.6 241.1L432.4 241.14L433.2 241.16L434 241.18L434.8 241.19L435.6 241.19L436.08 241.19L472 241.2" fill="none" stroke="#0a0a0a" stroke-width="1.12" stroke-linejoin="round"/>
<path d="M394.8 241.2L410.68 241.2L411.08 241.19L411.48 241.18L411.88 241.16L412.28 241.12L412.68 241.03L413.08 240.87L413.48 240.6L413.88 240.13L414.28 239.39L414.68 238.26L415.08 236.63L415.48 234.42L415.88 231.56L416.28 228.1L416.68 224.17L417.08 220.01L417.48 215.99L417.88 212.5L418.28 209.94L418.68 208.63L419.08 208.74L419.48 210.25L419.88 212.97L420.28 216.57L420.68 220.64L421.08 224.78L421.48 228.65L421.88 232.03L422.28 234.79L422.68 236.91L423.08 238.46L423.48 239.52L423.88 240.22L424.28 240.65L424.68 240.9L425.08 241.05L425.48 241.13L425.88 241.17L426.28 241.18L426.68 241.19L427.02 241.2L472 241.2" fill="none" stroke="#0a0a0a" stroke-width="1.12" stroke-linejoin="round"/>
<path d="M394.8 241.2L415.98 241.2L416.38 241.19L416.78 241.19L417.18 241.18L417.58 241.16L417.98 241.13L418.38 241.07L418.78 240.98L419.18 240.83L419.58 240.61L419.98 240.27L420.38 239.77L420.78 239.08L421.18 238.13L421.58 236.88L421.98 235.28L422.38 233.32L422.78 231L423.18 228.36L423.58 225.47L423.98 222.46L424.38 219.49L424.78 216.73L425.18 214.38L425.58 212.62L425.98 211.56L426.38 211.32L426.78 211.89L427.18 213.24L427.58 215.26L427.98 217.8L428.38 220.66L428.78 223.67L429.18 226.65L429.58 229.45L429.98 231.97L430.38 234.15L430.78 235.96L431.18 237.42L431.58 238.54L431.98 239.38L432.38 239.99L432.78 240.42L433.18 240.71L433.58 240.9L433.98 241.02L434.38 241.1L434.78 241.14L435.18 241.17L435.58 241.18L435.98 241.19L436.38 241.2L436.62 241.2L472 241.2" fill="none" stroke="#0a0a0a" stroke-width="1.12" stroke-linejoin="round"/>
<path d="M394.8 179.5V241.2" stroke="#888" stroke-width="0.7" fill="none"/>
<path d="M394.4 241.2H472.4" stroke="#0a0a0a" stroke-width="1.3" fill="none"/>
<path d="M394.8 241.2v2.4M420.7 241.2v2.4M446.5 241.2v2.4M472 241.2v2.4" stroke="#0a0a0a" stroke-width="0.9" fill="none"/>
<g fill="#0a0a0a">
<text x="385.4" y="182.77" font-size="6.3" font-weight="bold" stroke="#0a0a0a" stroke-width="0.3" textLength="6.8" lengthAdjust="spacingAndGlyphs">18</text>
<text x="385.4" y="203.27" font-size="6.3" font-weight="bold" stroke="#0a0a0a" stroke-width="0.3" textLength="6.8" lengthAdjust="spacingAndGlyphs">12</text>
<text x="388.8" y="223.67" font-size="6.3" font-weight="bold" stroke="#0a0a0a" stroke-width="0.3" textLength="3.4" lengthAdjust="spacingAndGlyphs">6</text>
<text x="388.8" y="243.97" font-size="6.3" font-weight="bold" stroke="#0a0a0a" stroke-width="0.3" textLength="3.4" lengthAdjust="spacingAndGlyphs">0</text>
</g>
<path d="M399.5 273.38L400.26 268.85L401.01 264.89L401.77 261.7L402.53 259.47L403.29 258.34L404.04 258.36L404.8 259.54L405.56 261.8L406.31 265.02L407.07 269.02L407.83 273.56L408.59 278.43L409.34 283.4L410.1 288.28L410.86 292.89L411.61 297.11L412.37 300.85L412.5 301.44 L412.5 315.7 L399.5 315.7z" fill="#bebebe"/>
<path d="M400.76 315.1V266.94M402.86 315.1V259.64M404.96 315.1V260.73M407.06 315.1V269.75M409.16 315.1V283.01M411.26 315.1V295.99" stroke="#e4e4e4" stroke-width="0.45" fill="none"/>
<path d="M395.01 315.7V301.8h2.33V315.7zM397.56 315.7V309.5h2.33V315.7zM410.31 315.7V303.7h2.33V315.7zM412.86 315.7V296.1h2.33V315.7zM417.96 315.7V310.5h2.33V315.7zM399.4 315.7V257.2h2.8V315.7z" fill="#bebebe"/>
<path d="M394.6 301.34L395.37 297.64L396.14 293.44L396.91 288.83L397.69 283.91L398.46 278.86L399.23 273.86L400 269.15L400.77 264.95L401.54 261.49L402.31 258.96L403.09 257.52L403.86 257.24L404.63 258.15L405.4 260.19L406.17 263.24L406.94 267.13L407.71 271.63L408.49 276.52L409.26 281.58L410.03 286.58L410.8 291.35L411.57 295.75L412.34 299.69L413.11 303.11L413.89 306L414.66 308.37L415.43 310.28L416.2 311.77L416.97 312.91L417.74 313.76L418.51 314.38L419.29 314.82L420.06 315.12L420.83 315.33L421.6 315.47L422.37 315.56L423.14 315.61L423.91 315.65L424.69 315.67L425.46 315.68L426.23 315.69L426.87 315.69L472.5 315.7" fill="none" stroke="#0a0a0a" stroke-width="1.12" stroke-linejoin="round"/>
<path d="M394.6 253.5V315.7" stroke="#888" stroke-width="0.7" fill="none"/>
<path d="M394.2 315.7H472.9" stroke="#0a0a0a" stroke-width="1.3" fill="none"/>
<path d="M394.6 315.7v2.4M420.6 315.7v2.4M446.5 315.7v2.4M472.5 315.7v2.4" stroke="#0a0a0a" stroke-width="0.9" fill="none"/>
<g fill="#0a0a0a">
<text x="385.2" y="258.67" font-size="6.3" font-weight="bold" stroke="#0a0a0a" stroke-width="0.3" textLength="6.8" lengthAdjust="spacingAndGlyphs">12</text>
<text x="388.6" y="278.77" font-size="6.3" font-weight="bold" stroke="#0a0a0a" stroke-width="0.3" textLength="3.4" lengthAdjust="spacingAndGlyphs">8</text>
<text x="388.6" y="298.07" font-size="6.3" font-weight="bold" stroke="#0a0a0a" stroke-width="0.3" textLength="3.4" lengthAdjust="spacingAndGlyphs">4</text>
<text x="388.6" y="318.37" font-size="6.3" font-weight="bold" stroke="#0a0a0a" stroke-width="0.3" textLength="3.4" lengthAdjust="spacingAndGlyphs">0</text>
</g>
<path d="M397.01 383.4V379.5h2.28V383.4zM399.51 383.4V337.2h2.28V383.4zM402.01 383.4V344h2.28V383.4zM404.51 383.4V325.7h2.28V383.4zM407.01 383.4V344h2.28V383.4zM409.51 383.4V371.8h2.28V383.4zM412.01 383.4V368.4h2.28V383.4zM414.51 383.4V377.6h2.28V383.4zM417.01 383.4V372.2h2.28V383.4zM424.4 383.4V379.5h2V383.4zM429.6 383.4V379.5h2V383.4zM434.6 383.4V379.5h2V383.4zM439.8 383.4V379.5h2V383.4zM455.8 383.4V379.5h2V383.4zM395 383.4V382h77V383.4z" fill="#bebebe"/>
<path d="M394.6 376.94L395.27 375.34L395.94 373.35L396.61 370.94L397.29 368.1L397.96 364.83L398.63 361.19L399.3 357.25L399.97 353.12L400.64 348.97L401.31 344.97L401.99 341.29L402.66 338.15L403.33 335.7L404 334.09L404.67 333.42L405.34 333.72L406.01 334.98L406.69 337.12L407.36 340.02L408.03 343.51L408.7 347.41L409.37 351.53L410.04 355.68L410.71 359.71L411.39 363.48L412.06 366.9L412.73 369.91L413.4 372.48L414.07 374.63L414.74 376.37L415.41 377.74L416.09 378.81L416.76 379.61L417.43 380.2L418.1 380.62L418.77 380.92L419.44 381.12L420.11 381.26L420.79 381.35L421.46 381.41L422.13 381.45L422.8 381.47L423.47 381.48L424.14 381.49L424.81 381.49L425.01 381.5L472.5 381.5" fill="none" stroke="#0a0a0a" stroke-width="1.12" stroke-linejoin="round"/>
<path d="M394.6 322V383.4" stroke="#888" stroke-width="0.7" fill="none"/>
<path d="M394.2 383.4H472.9" stroke="#0a0a0a" stroke-width="1.3" fill="none"/>
<path d="M394.6 383.4v2.4M420.6 383.4v2.4M446.5 383.4v2.4M472.5 383.4v2.4" stroke="#0a0a0a" stroke-width="0.9" fill="none"/>
<g fill="#0a0a0a">
<text x="385.2" y="338.77" font-size="6.3" font-weight="bold" stroke="#0a0a0a" stroke-width="0.3" textLength="6.8" lengthAdjust="spacingAndGlyphs">12</text>
<text x="388.6" y="361.87" font-size="6.3" font-weight="bold" stroke="#0a0a0a" stroke-width="0.3" textLength="3.4" lengthAdjust="spacingAndGlyphs">6</text>
<text x="388.6" y="386.07" font-size="6.3" font-weight="bold" stroke="#0a0a0a" stroke-width="0.3" textLength="3.4" lengthAdjust="spacingAndGlyphs">0</text>
</g>
<path d="M393.21 455V447.7h2.38V455zM395.81 455V411.2h2.38V455zM398.41 455V396.7h2.38V455zM401.01 455V396.7h2.38V455zM403.61 455V411.2h2.38V455zM406.21 455V411.2h2.38V455zM408.81 455V411.2h2.38V455zM411.41 455V447.7h2.38V455zM414.01 455V447.7h2.38V455zM393.5 455V451h77V455zM421.5 455V447.7h2V455zM426.9 455V440.4h2.4V455zM429.6 455V447.7h5V455zM436.9 455V447.7h7.7V455zM447.5 455V440.4h2.9V455zM451.3 455V447.7h3.9V455zM461 455V447.7h2.9V455z" fill="#bebebe"/>
<path d="M393.1 432.95L393.9 429.21L394.7 425.16L395.5 420.91L396.3 416.59L397.1 412.35L397.9 408.36L398.7 404.79L399.5 401.81L400.3 399.57L401.1 398.17L401.9 397.7L402.7 398.17L403.5 399.57L404.3 401.81L405.1 404.79L405.9 408.36L406.7 412.35L407.5 416.59L408.3 420.91L409.1 425.16L409.9 429.21L410.7 432.95L411.5 436.33L412.3 439.29L413.1 441.83L413.9 443.96L414.7 445.7L415.5 447.1L416.3 448.2L417.1 449.04L417.9 449.67L418.7 450.14L419.5 450.48L420.3 450.71L421.1 450.88L421.9 450.99L422.7 451.07L423.5 451.12L424.3 451.15L425.1 451.17L425.9 451.18L426.7 451.19L427.5 451.19L427.7 451.19L469.6 451.2" fill="none" stroke="#0a0a0a" stroke-width="1.12" stroke-linejoin="round"/>
<path d="M393.1 393.8V455" stroke="#888" stroke-width="0.7" fill="none"/>
<path d="M392.7 455H471.9" stroke="#0a0a0a" stroke-width="1.3" fill="none"/>
<path d="M393.1 455v2.4M419.2 455v2.4M445.2 455v2.4M471.5 455v2.4" stroke="#0a0a0a" stroke-width="0.9" fill="none"/>
<g fill="#0a0a0a">
<text x="387.1" y="398.67" font-size="6.3" font-weight="bold" stroke="#0a0a0a" stroke-width="0.3" textLength="3.4" lengthAdjust="spacingAndGlyphs">8</text>
<text x="387.1" y="428.17" font-size="6.3" font-weight="bold" stroke="#0a0a0a" stroke-width="0.3" textLength="3.4" lengthAdjust="spacingAndGlyphs">4</text>
<text x="387.1" y="457.67" font-size="6.3" font-weight="bold" stroke="#0a0a0a" stroke-width="0.3" textLength="3.4" lengthAdjust="spacingAndGlyphs">0</text>
</g>
<path d="M395 524.49L395.57 522.82L396.14 520.74L396.71 518.22L397.29 515.26L397.86 511.85L398.43 508.06L399 503.96L399.57 499.69L400.14 495.39L400.71 491.26L401.29 487.48L401.86 484.26L402.43 481.77L403 480.15L403.57 479.51L404.14 479.88L404.71 481.23L405.29 483.49L405.86 486.53L406.43 490.18L407 494.23L407.57 498.5L408.14 502.8L408.71 506.96L409.29 510.84L409.86 514.36L410.43 517.45L411 520.09L411.57 522.29L412 523.66 L412 529.3 L395 529.3z" fill="#bebebe"/>
<path d="M396.26 528.7V521.06M398.36 528.7V509.33M400.46 528.7V493.87M402.56 528.7V482.12M404.66 528.7V481.86M406.76 528.7V493.29M408.86 528.7V508.78M410.96 528.7V520.72" stroke="#e4e4e4" stroke-width="0.45" fill="none"/>
<path d="M401.9 529.3V470.7h2.7V529.3zM410 529.3V513.9h2.3V529.3zM418.1 529.3V513.9h2.5V529.3zM428.3 529.3V525.8h4.8V529.3z" fill="#bebebe"/>
<path d="M394.6 524.84L395.19 523.25L395.77 521.25L396.36 518.82L396.94 515.92L397.53 512.57L398.11 508.8L398.7 504.69L399.29 500.36L399.87 495.95L400.46 491.64L401.04 487.64L401.63 484.14L402.21 481.33L402.8 479.38L403.39 478.41L403.97 478.46L404.56 479.53L405.14 481.57L405.73 484.45L406.31 488.01L406.9 492.05L407.49 496.38L408.07 500.79L408.66 505.11L409.24 509.19L409.83 512.92L410.41 516.22L411 519.07L411.59 521.46L412.17 523.42L412.76 524.97L413.34 526.18L413.93 527.1L414.51 527.78L415.1 528.27L415.69 528.61L416.27 528.85L416.86 529.02L417.44 529.12L418.03 529.19L418.61 529.23L419.2 529.26L419.79 529.28L420.37 529.29L420.96 529.29L421.28 529.3L472.5 529.3" fill="none" stroke="#0a0a0a" stroke-width="1.12" stroke-linejoin="round"/>
<path d="M394.6 464V529.3" stroke="#888" stroke-width="0.7" fill="none"/>
<path d="M394.2 529.3H472.9" stroke="#0a0a0a" stroke-width="1.3" fill="none"/>
<path d="M394.6 529.3v2.4M420.6 529.3v2.4M446.5 529.3v2.4M472.5 529.3v2.4" stroke="#0a0a0a" stroke-width="0.9" fill="none"/>
<g fill="#0a0a0a">
<text x="385.2" y="469.37" font-size="6.3" font-weight="bold" stroke="#0a0a0a" stroke-width="0.3" textLength="6.8" lengthAdjust="spacingAndGlyphs">16</text>
<text x="388.6" y="500.47" font-size="6.3" font-weight="bold" stroke="#0a0a0a" stroke-width="0.3" textLength="3.4" lengthAdjust="spacingAndGlyphs">8</text>
<text x="388.6" y="532.07" font-size="6.3" font-weight="bold" stroke="#0a0a0a" stroke-width="0.3" textLength="3.4" lengthAdjust="spacingAndGlyphs">0</text>
</g>
<path d="M399.51 602.3V597.5h2.28V602.3zM402.01 602.3V584h2.28V602.3zM404.51 602.3V544h2.28V602.3zM407.01 602.3V575.4h2.28V602.3zM409.51 602.3V577.3h2.28V602.3zM412.01 602.3V578.7h2.28V602.3zM414.51 602.3V591.8h2.28V602.3zM417.01 602.3V594.6h2.28V602.3zM419.51 602.3V597.5h2.28V602.3zM422.01 602.3V599.8h2.28V602.3zM431.2 602.3V600.4h4.2V602.3zM440.8 602.3V600.4h1.9V602.3z" fill="#bebebe"/>
<path d="M396.5 598.14L397.21 596.72L397.93 594.97L398.64 592.88L399.36 590.42L400.07 587.63L400.79 584.55L401.5 581.26L402.21 577.86L402.93 574.48L403.64 571.28L404.36 568.4L405.07 566.01L405.79 564.24L406.5 563.18L407.21 562.91L407.93 563.44L408.64 564.73L409.36 566.72L410.07 569.28L410.79 572.27L411.5 575.55L412.21 578.95L412.93 582.33L413.64 585.56L414.36 588.56L415.07 591.24L415.79 593.59L416.5 595.57L417.21 597.21L417.93 598.52L418.64 599.56L419.36 600.35L420.07 600.94L420.79 601.37L421.5 601.68L422.21 601.89L422.93 602.04L423.64 602.13L424.36 602.2L425.07 602.24L425.79 602.26L426.5 602.28L427.21 602.29L427.93 602.29L428.6 602.3L474.4 602.3" fill="none" stroke="#0a0a0a" stroke-width="1.12" stroke-linejoin="round"/>
<path d="M396.5 540V602.3" stroke="#888" stroke-width="0.7" fill="none"/>
<path d="M396.1 602.3H474.8" stroke="#0a0a0a" stroke-width="1.3" fill="none"/>
<path d="M396.5 602.3v2.4M422.5 602.3v2.4M448.5 602.3v2.4M474.4 602.3v2.4" stroke="#0a0a0a" stroke-width="0.9" fill="none"/>
<g fill="#0a0a0a">
<text x="387.1" y="551.07" font-size="6.3" font-weight="bold" stroke="#0a0a0a" stroke-width="0.3" textLength="6.8" lengthAdjust="spacingAndGlyphs">20</text>
<text x="387.1" y="577.97" font-size="6.3" font-weight="bold" stroke="#0a0a0a" stroke-width="0.3" textLength="6.8" lengthAdjust="spacingAndGlyphs">10</text>
<text x="390.5" y="605.07" font-size="6.3" font-weight="bold" stroke="#0a0a0a" stroke-width="0.3" textLength="3.4" lengthAdjust="spacingAndGlyphs">0</text>
</g>
<path d="M398.21 675.3V667.6h1.96V675.3zM400.39 675.3V663.8h1.96V675.3zM402.57 675.3V638.8h1.96V675.3zM404.75 675.3V616.7h1.96V675.3zM406.93 675.3V623.4h1.96V675.3zM409.11 675.3V636.8h1.96V675.3zM411.29 675.3V655.1h1.96V675.3zM413.47 675.3V654.2h1.96V675.3zM415.65 675.3V669.5h1.96V675.3zM417.83 675.3V672.4h1.96V675.3zM420.01 675.3V658.4h1.96V675.3z" fill="#bebebe"/>
<path d="M396.5 670.47L397.13 668.76L397.76 666.62L398.39 664.02L399.01 660.94L399.64 657.38L400.27 653.38L400.9 649.05L401.53 644.48L402.16 639.86L402.79 635.36L403.41 631.2L404.04 627.6L404.67 624.74L405.3 622.79L405.93 621.87L406.56 622.03L407.19 623.26L407.81 625.49L408.44 628.59L409.07 632.38L409.7 636.66L410.33 641.22L410.96 645.84L411.59 650.36L412.21 654.6L412.84 658.48L413.47 661.9L414.1 664.84L414.73 667.3L415.36 669.31L415.99 670.9L416.61 672.14L417.24 673.07L417.87 673.76L418.5 674.26L419.13 674.61L419.76 674.85L420.39 675.01L421.01 675.12L421.64 675.19L422.27 675.23L422.9 675.26L423.53 675.28L424.16 675.29L424.79 675.29L425.07 675.29L474.4 675.3" fill="none" stroke="#333" stroke-width="0.75" stroke-linejoin="round"/>
<path d="M396.5 614V675.3" stroke="#888" stroke-width="0.7" fill="none"/>
<path d="M396.1 675.3H474.8" stroke="#0a0a0a" stroke-width="1.3" fill="none"/>
<path d="M396.5 675.3v2.4M422.5 675.3v2.4M448.5 675.3v2.4M474.4 675.3v2.4" stroke="#0a0a0a" stroke-width="0.9" fill="none"/>
<g fill="#0a0a0a">
<text x="387.1" y="627.27" font-size="6.3" font-weight="bold" stroke="#0a0a0a" stroke-width="0.3" textLength="6.8" lengthAdjust="spacingAndGlyphs">12</text>
<text x="390.5" y="644.57" font-size="6.3" font-weight="bold" stroke="#0a0a0a" stroke-width="0.3" textLength="3.4" lengthAdjust="spacingAndGlyphs">8</text>
<text x="390.5" y="660.97" font-size="6.3" font-weight="bold" stroke="#0a0a0a" stroke-width="0.3" textLength="3.4" lengthAdjust="spacingAndGlyphs">4</text>
<text x="390.5" y="678.07" font-size="6.3" font-weight="bold" stroke="#0a0a0a" stroke-width="0.3" textLength="3.4" lengthAdjust="spacingAndGlyphs">0</text>
</g>
<g fill="#0a0a0a" stroke="#0a0a0a" stroke-width="0.3" font-weight="bold" font-size="10.1">
<text x="395.7" y="690" textLength="5.3" lengthAdjust="spacingAndGlyphs">0</text>
<text x="411.4" y="690" textLength="17" lengthAdjust="spacingAndGlyphs">100</text>
<text x="443.2" y="690" textLength="16.9" lengthAdjust="spacingAndGlyphs">200</text>
<text x="468.6" y="690" textLength="17.9" lengthAdjust="spacingAndGlyphs">300</text>
</g>
<g fill="#0a0a0a" font-weight="bold" font-size="12.9" stroke="#0a0a0a" stroke-width="0.3">
<text x="440.2" y="119.4" textLength="33.3" lengthAdjust="spacingAndGlyphs">35nm</text>
<path d="M438.8 116.2L416.2 121.66" stroke="#0a0a0a" stroke-width="1.45" fill="none"/>
<path stroke="none" d="M409.4 123.3L415.87 118.14L417.51 124.94z"/>
<text x="453.3" y="139.6" textLength="33.6" lengthAdjust="spacingAndGlyphs">71nm</text>
<path d="M452.1 136.7L429.37 141.15" stroke="#0a0a0a" stroke-width="1.45" fill="none"/>
<path stroke="none" d="M422.5 142.5L429.19 137.62L430.53 144.49z"/>
<text x="454.6" y="186.1" textLength="36.3" lengthAdjust="spacingAndGlyphs">58 nm</text>
<path d="M447.7 182.7L422.9 182.7" stroke="#0a0a0a" stroke-width="1.45" fill="none"/>
<path stroke="none" d="M415.9 182.7L423.4 179.2L423.4 186.2z"/>
<text x="460.4" y="199.2" textLength="36.9" lengthAdjust="spacingAndGlyphs">93 nm</text>
<path d="M453.5 196.5L430.73 204.17" stroke="#0a0a0a" stroke-width="1.45" fill="none"/>
<path stroke="none" d="M424.1 206.4L430.09 200.69L432.32 207.32z"/>
<text x="459.2" y="217.7" textLength="45" lengthAdjust="spacingAndGlyphs">122 nm</text>
<path d="M447.2 209.6L437.78 210.29" stroke="#0a0a0a" stroke-width="1.45" fill="none"/>
<path stroke="none" d="M430.8 210.8L438.02 206.76L438.54 213.74z"/>
<text x="437.3" y="274.9" textLength="33.3" lengthAdjust="spacingAndGlyphs">36nm</text>
<path d="M436.5 271.5L422.55 275.34" stroke="#0a0a0a" stroke-width="1.45" fill="none"/>
<path stroke="none" d="M415.8 277.2L422.1 271.83L423.96 278.58z"/>
<text x="437.9" y="347.2" textLength="33.1" lengthAdjust="spacingAndGlyphs">40nm</text>
<path d="M431.2 347.8L421.89 353.06" stroke="#0a0a0a" stroke-width="1.45" fill="none"/>
<path stroke="none" d="M415.8 356.5L420.61 349.76L424.05 355.86z"/>
<text x="447.5" y="425.2" textLength="33.3" lengthAdjust="spacingAndGlyphs">36nm</text>
<path d="M446.5 420.8L418.76 426.49" stroke="#0a0a0a" stroke-width="1.45" fill="none"/>
<path stroke="none" d="M411.9 427.9L418.54 422.96L419.95 429.82z"/>
<text x="444.2" y="488" textLength="37" lengthAdjust="spacingAndGlyphs">35 nm</text>
<path d="M442.7 488.9L422.53 494.67" stroke="#0a0a0a" stroke-width="1.45" fill="none"/>
<path stroke="none" d="M415.8 496.6L422.05 491.17L423.97 497.9z"/>
<text x="444.2" y="565.8" textLength="37" lengthAdjust="spacingAndGlyphs">42 nm</text>
<path d="M442.7 562.5L422.33 570.38" stroke="#0a0a0a" stroke-width="1.45" fill="none"/>
<path stroke="none" d="M415.8 572.9L421.53 566.93L424.06 573.46z"/>
<text x="444.2" y="638.8" textLength="37" lengthAdjust="spacingAndGlyphs">42 nm</text>
<path d="M442.7 635.5L422.5 641.58" stroke="#0a0a0a" stroke-width="1.45" fill="none"/>
<path stroke="none" d="M415.8 643.6L421.97 638.09L423.99 644.79z"/>
</g>
</svg></body></html>
